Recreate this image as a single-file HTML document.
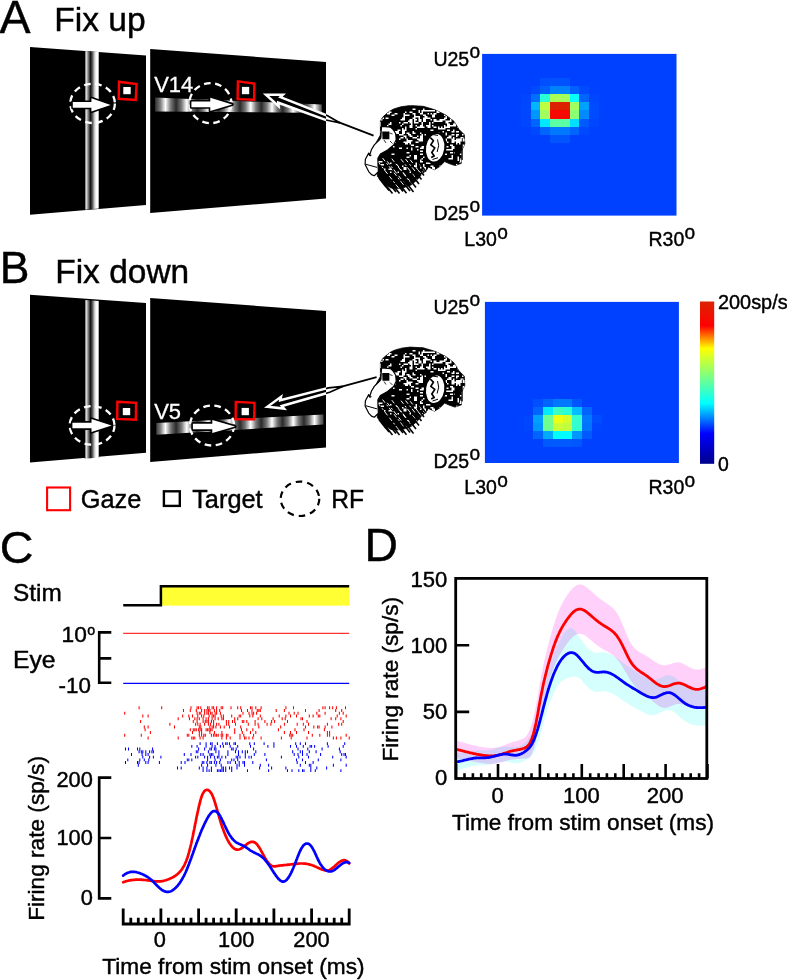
<!DOCTYPE html>
<html><head><meta charset="utf-8"><title>Figure</title>
<style>html,body{margin:0;padding:0;background:#fff}svg{display:block}text{font-family:"Liberation Sans",sans-serif;stroke:#000;stroke-width:.42px}</style>
</head><body>
<svg width="787" height="980" viewBox="0 0 787 980">
<rect width="787" height="980" fill="#fff"/>
<defs>
<linearGradient id="vbar" gradientUnits="userSpaceOnUse" x1="84.8" y1="0" x2="99.2" y2="0"><stop offset="0" stop-color="#000"/><stop offset="0.07" stop-color="#ccc"/><stop offset="0.11" stop-color="#ddd"/><stop offset="0.25" stop-color="#777"/><stop offset="0.4" stop-color="#111"/><stop offset="0.55" stop-color="#666"/><stop offset="0.7" stop-color="#ddd"/><stop offset="0.82" stop-color="#fff"/><stop offset="0.93" stop-color="#fff"/><stop offset="1" stop-color="#000"/></linearGradient>
<linearGradient id="hgr" gradientUnits="userSpaceOnUse" x1="154.8" y1="0" x2="176.1" y2="0" spreadMethod="repeat"><stop offset="0" stop-color="#2a2a2a"/><stop offset="0.25" stop-color="#777"/><stop offset="0.5" stop-color="#fff"/><stop offset="0.75" stop-color="#777"/><stop offset="1" stop-color="#2a2a2a"/></linearGradient>
<linearGradient id="cbar" x1="0" y1="0" x2="0" y2="1"><stop offset="0.000" stop-color="rgb(220,35,0)"/><stop offset="0.149" stop-color="rgb(255,0,0)"/><stop offset="0.289" stop-color="rgb(255,255,0)"/><stop offset="0.627" stop-color="rgb(0,255,255)"/><stop offset="0.814" stop-color="rgb(0,0,255)"/><stop offset="1.000" stop-color="rgb(0,0,140)"/></linearGradient>
<clipPath id="clipA"><polygon points="150.2,48.9 326,62.1 326,198.5 150.2,213"/></clipPath>
<clipPath id="clipB"><polygon points="150.2,297.9 326,311.1 326,447.5 150.2,462"/></clipPath>
<clipPath id="mclip"><polygon points="380.4,121.4 382.5,117.3 385.5,114.6 389.5,111.3 393.7,109.0 400.8,106.8 410.0,105.6 423.3,106.3 435.5,110.0 445.7,115.0 453.9,121.2 459.0,129.4 464.3,134.7 464.8,143.9 461.4,151.0 461.4,163.3 454.9,165.6 449.0,163.5 444.7,161.6 439.6,166.6 434.5,169.7 428.4,167.0 426.3,170.4 422.0,174.0 417.0,180.0 411.0,185.0 404.0,187.5 397.0,188.5 391.0,188.0 387.0,185.5 383.5,182.5 380.0,179.0 377.4,176.5 377.4,171.4 372.0,150.0 380.4,135.0"/></clipPath><g id="monkey"><polygon points="380.4,121.4 382.5,117.3 385.5,114.6 389.5,111.3 393.7,109.0 400.8,106.8 410.0,105.6 423.3,106.3 435.5,110.0 445.7,115.0 453.9,121.2 459.0,129.4 464.3,134.7 464.8,143.9 461.4,151.0 461.4,163.3 454.9,165.6 449.0,163.5 444.7,161.6 439.6,166.6 434.5,169.7 428.4,167.0 426.3,170.4 422.0,174.0 417.0,180.0 411.0,185.0 404.0,187.5 397.0,188.5 391.0,188.0 387.0,185.5 383.5,182.5 380.0,179.0 377.4,176.5 377.4,171.4 372.0,150.0 380.4,135.0" fill="#000" stroke="#000" stroke-width="0.8" stroke-linejoin="round"/><g clip-path="url(#mclip)"><path d="M409.5,104.0h1.5v1.5h-1.5zM451.5,104.0h3.0v1.5h-3.0zM457.5,104.0h1.5v1.5h-1.5zM465.0,104.0h1.5v1.5h-1.5zM393.0,105.5h3.0v1.5h-3.0zM397.5,105.5h3.0v1.5h-3.0zM426.0,105.5h1.5v1.5h-1.5zM387.0,108.5h3.0v1.5h-3.0zM412.5,108.5h3.0v1.5h-3.0zM423.0,108.5h1.5v1.5h-1.5zM456.0,108.5h3.0v1.5h-3.0zM387.0,110.0h1.5v1.5h-1.5zM388.5,110.0h1.5v3.0h-1.5zM418.5,110.0h1.5v3.0h-1.5zM421.5,110.0h1.5v3.0h-1.5zM423.0,110.0h3.0v1.5h-3.0zM426.0,110.0h3.0v1.5h-3.0zM429.0,110.0h3.0v1.5h-3.0zM432.0,110.0h3.0v1.5h-3.0zM436.5,110.0h3.0v3.0h-3.0zM444.0,110.0h3.0v3.0h-3.0zM453.0,110.0h1.5v1.5h-1.5zM454.5,110.0h3.0v1.5h-3.0zM457.5,110.0h1.5v3.0h-1.5zM390.0,111.5h1.5v1.5h-1.5zM405.0,111.5h1.5v1.5h-1.5zM409.5,111.5h3.0v1.5h-3.0zM421.5,111.5h1.5v1.5h-1.5zM445.5,111.5h3.0v1.5h-3.0zM448.5,111.5h3.0v3.0h-3.0zM450.0,111.5h1.5v3.0h-1.5zM387.0,113.0h3.0v1.5h-3.0zM394.5,113.0h3.0v1.5h-3.0zM403.5,113.0h1.5v3.0h-1.5zM412.5,113.0h3.0v1.5h-3.0zM420.0,113.0h1.5v1.5h-1.5zM421.5,113.0h1.5v1.5h-1.5zM427.5,113.0h1.5v1.5h-1.5zM430.5,113.0h1.5v1.5h-1.5zM433.5,113.0h3.0v1.5h-3.0zM447.0,113.0h3.0v1.5h-3.0zM451.5,113.0h1.5v1.5h-1.5zM459.0,113.0h1.5v3.0h-1.5zM391.5,114.5h3.0v1.5h-3.0zM405.0,114.5h3.0v1.5h-3.0zM406.5,114.5h3.0v1.5h-3.0zM414.0,114.5h1.5v3.0h-1.5zM423.0,114.5h3.0v1.5h-3.0zM432.0,114.5h3.0v1.5h-3.0zM444.0,114.5h1.5v1.5h-1.5zM454.5,114.5h3.0v3.0h-3.0zM378.0,116.0h3.0v3.0h-3.0zM403.5,116.0h1.5v1.5h-1.5zM415.5,116.0h1.5v1.5h-1.5zM417.0,116.0h3.0v1.5h-3.0zM424.5,116.0h3.0v3.0h-3.0zM432.0,116.0h3.0v1.5h-3.0zM433.5,116.0h1.5v1.5h-1.5zM445.5,116.0h1.5v3.0h-1.5zM453.0,116.0h3.0v3.0h-3.0zM457.5,116.0h1.5v1.5h-1.5zM382.5,117.5h1.5v1.5h-1.5zM385.5,117.5h3.0v1.5h-3.0zM402.0,117.5h3.0v3.0h-3.0zM412.5,117.5h3.0v1.5h-3.0zM414.0,117.5h1.5v3.0h-1.5zM418.5,117.5h1.5v3.0h-1.5zM423.0,117.5h3.0v3.0h-3.0zM427.5,117.5h3.0v1.5h-3.0zM444.0,117.5h1.5v3.0h-1.5zM450.0,117.5h3.0v1.5h-3.0zM454.5,117.5h1.5v1.5h-1.5zM456.0,117.5h3.0v1.5h-3.0zM379.5,119.0h3.0v1.5h-3.0zM400.5,119.0h3.0v1.5h-3.0zM409.5,119.0h3.0v1.5h-3.0zM414.0,119.0h1.5v3.0h-1.5zM415.5,119.0h1.5v1.5h-1.5zM418.5,119.0h3.0v1.5h-3.0zM430.5,119.0h1.5v1.5h-1.5zM433.5,119.0h3.0v3.0h-3.0zM439.5,119.0h3.0v1.5h-3.0zM441.0,119.0h3.0v1.5h-3.0zM450.0,119.0h1.5v3.0h-1.5zM454.5,119.0h1.5v3.0h-1.5zM408.0,120.5h1.5v1.5h-1.5zM409.5,120.5h3.0v1.5h-3.0zM418.5,120.5h3.0v1.5h-3.0zM423.0,120.5h3.0v1.5h-3.0zM424.5,120.5h1.5v1.5h-1.5zM436.5,120.5h3.0v1.5h-3.0zM438.0,120.5h3.0v1.5h-3.0zM439.5,120.5h3.0v1.5h-3.0zM445.5,120.5h3.0v3.0h-3.0zM448.5,120.5h3.0v1.5h-3.0zM454.5,120.5h1.5v3.0h-1.5zM457.5,120.5h1.5v1.5h-1.5zM378.0,122.0h3.0v3.0h-3.0zM390.0,122.0h1.5v3.0h-1.5zM399.0,122.0h1.5v1.5h-1.5zM403.5,122.0h3.0v1.5h-3.0zM405.0,122.0h3.0v1.5h-3.0zM409.5,122.0h3.0v1.5h-3.0zM414.0,122.0h3.0v1.5h-3.0zM415.5,122.0h3.0v1.5h-3.0zM421.5,122.0h1.5v3.0h-1.5zM429.0,122.0h1.5v3.0h-1.5zM432.0,122.0h1.5v1.5h-1.5zM456.0,122.0h1.5v3.0h-1.5zM388.5,123.5h1.5v1.5h-1.5zM402.0,123.5h1.5v1.5h-1.5zM411.0,123.5h1.5v1.5h-1.5zM447.0,123.5h3.0v3.0h-3.0zM453.0,123.5h3.0v1.5h-3.0zM378.0,125.0h3.0v1.5h-3.0zM387.0,125.0h1.5v1.5h-1.5zM400.5,125.0h1.5v1.5h-1.5zM409.5,125.0h3.0v3.0h-3.0zM411.0,125.0h1.5v1.5h-1.5zM415.5,125.0h1.5v1.5h-1.5zM420.0,125.0h3.0v3.0h-3.0zM426.0,125.0h1.5v1.5h-1.5zM427.5,125.0h1.5v3.0h-1.5zM429.0,125.0h1.5v1.5h-1.5zM432.0,125.0h1.5v1.5h-1.5zM444.0,125.0h1.5v3.0h-1.5zM447.0,125.0h3.0v3.0h-3.0zM448.5,125.0h3.0v1.5h-3.0zM451.5,125.0h1.5v1.5h-1.5zM453.0,125.0h3.0v1.5h-3.0zM381.0,126.5h3.0v1.5h-3.0zM405.0,126.5h1.5v3.0h-1.5zM417.0,126.5h1.5v1.5h-1.5zM418.5,126.5h1.5v1.5h-1.5zM423.0,126.5h1.5v1.5h-1.5zM427.5,126.5h3.0v1.5h-3.0zM433.5,126.5h3.0v1.5h-3.0zM438.0,126.5h1.5v1.5h-1.5zM441.0,126.5h1.5v1.5h-1.5zM445.5,126.5h3.0v1.5h-3.0zM447.0,126.5h3.0v1.5h-3.0zM457.5,126.5h1.5v1.5h-1.5zM460.5,126.5h1.5v1.5h-1.5zM382.5,128.0h3.0v3.0h-3.0zM402.0,128.0h1.5v3.0h-1.5zM415.5,128.0h1.5v1.5h-1.5zM438.0,128.0h3.0v1.5h-3.0zM439.5,128.0h3.0v1.5h-3.0zM442.5,128.0h3.0v1.5h-3.0zM397.5,129.5h3.0v1.5h-3.0zM403.5,129.5h3.0v1.5h-3.0zM430.5,129.5h3.0v1.5h-3.0zM447.0,129.5h3.0v1.5h-3.0zM453.0,129.5h1.5v1.5h-1.5zM378.0,131.0h3.0v1.5h-3.0zM393.0,131.0h3.0v3.0h-3.0zM396.0,131.0h3.0v3.0h-3.0zM402.0,131.0h3.0v3.0h-3.0zM412.5,131.0h1.5v1.5h-1.5zM442.5,131.0h1.5v1.5h-1.5zM451.5,131.0h3.0v1.5h-3.0zM456.0,131.0h3.0v1.5h-3.0zM465.0,131.0h3.0v1.5h-3.0zM406.5,132.5h3.0v1.5h-3.0zM412.5,132.5h3.0v1.5h-3.0zM420.0,132.5h1.5v1.5h-1.5zM438.0,132.5h1.5v1.5h-1.5zM445.5,132.5h1.5v3.0h-1.5zM399.0,134.0h3.0v1.5h-3.0zM402.0,134.0h1.5v1.5h-1.5zM408.0,134.0h3.0v1.5h-3.0zM421.5,134.0h1.5v1.5h-1.5zM424.5,134.0h1.5v1.5h-1.5zM435.0,134.0h1.5v3.0h-1.5zM451.5,134.0h3.0v1.5h-3.0zM456.0,134.0h3.0v1.5h-3.0zM462.0,134.0h1.5v1.5h-1.5zM403.5,135.5h1.5v1.5h-1.5zM405.0,135.5h1.5v3.0h-1.5zM409.5,135.5h3.0v1.5h-3.0zM417.0,135.5h1.5v1.5h-1.5zM420.0,135.5h3.0v3.0h-3.0zM430.5,135.5h3.0v1.5h-3.0zM448.5,135.5h3.0v1.5h-3.0zM456.0,135.5h1.5v1.5h-1.5zM400.5,137.0h3.0v1.5h-3.0zM412.5,137.0h1.5v1.5h-1.5zM414.0,137.0h3.0v1.5h-3.0zM433.5,137.0h3.0v1.5h-3.0zM447.0,137.0h3.0v1.5h-3.0zM450.0,137.0h1.5v1.5h-1.5zM453.0,137.0h1.5v1.5h-1.5zM460.5,137.0h3.0v1.5h-3.0zM399.0,138.5h1.5v1.5h-1.5zM406.5,138.5h1.5v1.5h-1.5zM417.0,138.5h3.0v1.5h-3.0zM420.0,138.5h3.0v3.0h-3.0zM421.5,138.5h1.5v1.5h-1.5zM445.5,138.5h1.5v3.0h-1.5zM451.5,138.5h3.0v1.5h-3.0zM456.0,138.5h3.0v1.5h-3.0zM459.0,138.5h3.0v3.0h-3.0zM462.0,138.5h3.0v1.5h-3.0zM406.5,140.0h3.0v1.5h-3.0zM409.5,140.0h3.0v1.5h-3.0zM418.5,140.0h3.0v1.5h-3.0zM421.5,140.0h1.5v1.5h-1.5zM442.5,140.0h3.0v1.5h-3.0zM451.5,140.0h3.0v3.0h-3.0zM453.0,140.0h3.0v1.5h-3.0zM454.5,140.0h3.0v1.5h-3.0zM456.0,140.0h3.0v1.5h-3.0zM462.0,140.0h3.0v1.5h-3.0zM394.5,141.5h1.5v1.5h-1.5zM403.5,141.5h1.5v1.5h-1.5zM405.0,141.5h3.0v1.5h-3.0zM408.0,141.5h1.5v1.5h-1.5zM409.5,141.5h1.5v3.0h-1.5zM415.5,141.5h3.0v1.5h-3.0zM427.5,141.5h3.0v3.0h-3.0zM432.0,141.5h1.5v1.5h-1.5zM447.0,141.5h1.5v1.5h-1.5zM456.0,141.5h3.0v1.5h-3.0zM459.0,141.5h1.5v3.0h-1.5zM405.0,143.0h3.0v1.5h-3.0zM409.5,143.0h1.5v1.5h-1.5zM436.5,143.0h3.0v1.5h-3.0zM456.0,143.0h1.5v1.5h-1.5zM411.0,144.5h3.0v1.5h-3.0zM450.0,144.5h3.0v1.5h-3.0zM462.0,144.5h3.0v3.0h-3.0zM393.0,146.0h1.5v1.5h-1.5zM415.5,146.0h3.0v1.5h-3.0zM421.5,146.0h3.0v1.5h-3.0zM445.5,146.0h3.0v1.5h-3.0zM451.5,146.0h3.0v3.0h-3.0zM399.0,147.5h3.0v1.5h-3.0zM406.5,147.5h1.5v1.5h-1.5zM411.0,147.5h1.5v3.0h-1.5zM420.0,147.5h1.5v1.5h-1.5zM421.5,147.5h3.0v1.5h-3.0zM429.0,147.5h3.0v1.5h-3.0zM435.0,147.5h1.5v1.5h-1.5zM451.5,147.5h1.5v3.0h-1.5zM462.0,147.5h1.5v1.5h-1.5zM417.0,149.0h1.5v1.5h-1.5zM445.5,149.0h3.0v1.5h-3.0zM448.5,149.0h3.0v1.5h-3.0zM379.5,150.5h3.0v1.5h-3.0zM420.0,150.5h3.0v1.5h-3.0zM429.0,150.5h3.0v1.5h-3.0zM406.5,152.0h3.0v1.5h-3.0zM438.0,152.0h3.0v1.5h-3.0zM450.0,152.0h1.5v1.5h-1.5zM451.5,152.0h3.0v1.5h-3.0zM391.5,153.5h3.0v1.5h-3.0zM420.0,153.5h3.0v1.5h-3.0zM439.5,153.5h3.0v3.0h-3.0zM444.0,153.5h3.0v1.5h-3.0zM459.0,153.5h3.0v1.5h-3.0zM409.5,155.0h1.5v1.5h-1.5zM414.0,155.0h3.0v3.0h-3.0zM451.5,155.0h1.5v1.5h-1.5zM406.5,156.5h3.0v1.5h-3.0zM423.0,156.5h1.5v1.5h-1.5zM427.5,156.5h3.0v1.5h-3.0zM451.5,156.5h1.5v3.0h-1.5zM457.5,156.5h1.5v3.0h-1.5zM414.0,158.0h3.0v1.5h-3.0zM421.5,158.0h1.5v1.5h-1.5zM448.5,158.0h3.0v1.5h-3.0zM459.0,158.0h1.5v1.5h-1.5zM420.0,159.5h1.5v3.0h-1.5zM430.5,159.5h1.5v1.5h-1.5zM457.5,159.5h3.0v1.5h-3.0zM459.0,159.5h3.0v3.0h-3.0zM378.0,161.0h3.0v1.5h-3.0zM379.5,161.0h3.0v1.5h-3.0zM420.0,161.0h3.0v1.5h-3.0zM432.0,161.0h1.5v1.5h-1.5zM433.5,161.0h1.5v1.5h-1.5zM462.0,161.0h1.5v1.5h-1.5zM390.0,162.5h1.5v1.5h-1.5zM415.5,162.5h1.5v3.0h-1.5zM426.0,162.5h1.5v1.5h-1.5zM427.5,162.5h3.0v1.5h-3.0zM463.5,162.5h1.5v1.5h-1.5zM381.0,164.0h3.0v1.5h-3.0zM415.5,164.0h1.5v1.5h-1.5zM423.0,164.0h1.5v3.0h-1.5zM444.0,164.0h1.5v1.5h-1.5zM456.0,164.0h1.5v1.5h-1.5zM402.0,165.5h1.5v1.5h-1.5zM414.0,165.5h3.0v1.5h-3.0zM430.5,165.5h3.0v1.5h-3.0zM439.5,165.5h3.0v1.5h-3.0zM442.5,165.5h3.0v1.5h-3.0zM453.0,165.5h1.5v1.5h-1.5zM465.0,165.5h3.0v1.5h-3.0zM403.5,167.0h3.0v3.0h-3.0zM420.0,167.0h1.5v1.5h-1.5zM423.0,167.0h3.0v3.0h-3.0zM432.0,167.0h3.0v3.0h-3.0zM439.5,167.0h3.0v3.0h-3.0zM441.0,167.0h1.5v1.5h-1.5zM445.5,167.0h3.0v1.5h-3.0zM450.0,167.0h1.5v1.5h-1.5zM453.0,167.0h3.0v1.5h-3.0zM384.0,168.5h1.5v1.5h-1.5zM388.5,168.5h3.0v1.5h-3.0zM429.0,168.5h1.5v3.0h-1.5zM433.5,168.5h1.5v3.0h-1.5zM447.0,168.5h3.0v1.5h-3.0zM448.5,168.5h1.5v3.0h-1.5zM450.0,168.5h1.5v3.0h-1.5zM459.0,168.5h1.5v1.5h-1.5zM465.0,168.5h1.5v1.5h-1.5zM424.5,170.0h3.0v1.5h-3.0zM432.0,170.0h3.0v1.5h-3.0zM433.5,170.0h3.0v1.5h-3.0zM454.5,170.0h1.5v1.5h-1.5zM457.5,170.0h3.0v1.5h-3.0zM459.0,170.0h3.0v3.0h-3.0zM390.0,171.5h1.5v1.5h-1.5zM397.5,171.5h1.5v1.5h-1.5zM409.5,171.5h1.5v1.5h-1.5zM420.0,171.5h3.0v1.5h-3.0zM433.5,171.5h1.5v1.5h-1.5zM444.0,171.5h3.0v1.5h-3.0zM448.5,171.5h1.5v1.5h-1.5zM460.5,171.5h3.0v1.5h-3.0zM462.0,171.5h1.5v1.5h-1.5z" fill="#fff"/><path d="M378.0,161.7l25.3,32.2M382.6,158.1l25.4,32.4M387.2,161.3l20.2,25.7M391.8,158.7l18.5,23.6M396.4,163.9l22.9,29.1M401.0,159.2l19.5,24.9M405.6,159.1l18.1,23.0M410.2,159.8l19.4,24.7M414.8,165.8l26.0,33.1M419.4,164.3l20.9,26.6" stroke="#fff" stroke-width="1.0" fill="none" stroke-dasharray="4 2.5 2 2 5 3"/></g><path d="M386.0,187.0l-7.1,-9.1M389.0,190.5l-8.0,-10.2M392.5,193.6l-8.4,-10.7M396.0,192.0l-7.9,-10.1M399.5,193.4l-7.6,-9.6M403.0,191.5l-6.2,-7.9M406.5,193.2l-7.5,-9.6M410.0,191.0l-8.2,-10.5M413.5,192.0l-8.0,-10.2M416.0,187.5l-5.9,-7.5M419.0,184.0l-7.8,-9.9M421.5,179.5l-6.7,-8.5M424.0,175.5l-6.1,-7.8M426.0,171.5l-8.6,-10.9" stroke="#000" stroke-width="1.6" fill="none"/><polygon points="381.6,126.3 390.6,127.2 393.6,130.2 395.7,133.7 396.2,139.8 393.7,144.9 387.6,150.0 380.4,154.1 377.9,158.2 378.0,165.0 378.4,171.8 374.3,175.7 371.5,174.6 368.7,171.6 365.1,164.5 365.4,159.2 368.7,153.1 369.6,155.4 371.5,149.5 374.3,144.9 379.4,139.8 380.9,137.8 381.2,130.6" fill="#fff" stroke="#000" stroke-width="1.2" stroke-linejoin="round"/><path d="M382.2,131.4 h7.2 v7.8 h-6.9 z" fill="#000"/><path d="M389.5,133 l3,1 M390,141 l2.5,2.5 M384,140 l2,3" stroke="#000" stroke-width="0.8" fill="none"/><path d="M365.6,164.2 l11.5,3.2" stroke="#000" stroke-width="1" fill="none"/><path d="M368.6,153.4 l1.6,2.3 l1.2,-0.8" stroke="#000" stroke-width="1.1" fill="none"/><ellipse cx="435.2" cy="147.8" rx="10.2" ry="15" fill="#fff" stroke="#000" stroke-width="2.2" transform="rotate(9 435.2 147.6)"/><path d="M430.2,137.5 l3.2,3.2 l-2.6,4.2 l4,3 l-3,4.6 l2.4,3.4 l-3,1.6" stroke="#000" stroke-width="1.7" fill="none" stroke-linejoin="round"/><path d="M437.5,139.5 q2.6,6 -0.4,12.5 M433,134.6 l5,0.8 M432.5,159.5 l5.5,-1.8" stroke="#000" stroke-width="1.0" fill="none"/><path d="M453.5,150v14 M456.5,147v17 M459.5,146v16 M462.3,138v22" stroke="#000" stroke-width="0.9" fill="none"/></g>
</defs>
<text transform="translate(-0.60,32.50) scale(0.995,1)" font-size="46.8" text-anchor="start" fill="#000" >A</text>
<text transform="translate(54.20,31.40) scale(1.01,1)" font-size="33.3" text-anchor="start" fill="#000" >Fix up</text>
<text transform="translate(-0.20,283.00) scale(0.985,1)" font-size="45.2" text-anchor="start" fill="#000" >B</text>
<text transform="translate(55.20,283.00) scale(1.018,1)" font-size="32.9" text-anchor="start" fill="#000" >Fix down</text>
<text transform="translate(-0.20,562.50) scale(1.034,1)" font-size="45.2" text-anchor="start" fill="#000" >C</text>
<text transform="translate(364.40,561.00) scale(1.014,1)" font-size="45.7" text-anchor="start" fill="#000" >D</text>
<polygon points="30.0,47.0 146.0,55.4 146.0,205.0 30.0,214.7" fill="#000"/>
<polygon points="150.2,48.9 326.0,62.1 326.0,198.5 150.2,213.0" fill="#000"/>
<polygon points="84.8,51.0 99.2,52.0 99.2,208.6 84.8,209.8" fill="url(#vbar)"/>
<polygon points="155.0,97.4 321.7,104.4 321.7,112.9 155.0,111.4" fill="url(#hgr)"/>
<text transform="translate(154.20,91.70) scale(0.985,1)" font-size="22.3" text-anchor="start" fill="#fff" style="stroke:#fff;stroke-width:.3px">V14</text>
<ellipse cx="92.6" cy="103.4" rx="22.3" ry="19.6" fill="none" stroke="#fff" stroke-width="2.3" stroke-dasharray="6.6 4.6"/>
<path d="M72.8,102.1 L91.4,102.1 L91.4,98.3 L110.6,104.9 L91.4,111.5 L91.4,107.7 L72.8,107.7 Z" fill="#000" stroke="#000" stroke-width="3.2" stroke-linejoin="round"/>
<path d="M72.8,102.1 L91.4,102.1 L91.4,98.3 L110.6,104.9 L91.4,111.5 L91.4,107.7 L72.8,107.7 Z" fill="#fff"/>
<ellipse cx="210.4" cy="103.2" rx="21.0" ry="20.0" fill="none" stroke="#fff" stroke-width="2.3" stroke-dasharray="6.6 4.6"/>
<path d="M191.4,101.6 L210.3,101.6 L210.3,97.8 L232.2,104.4 L210.3,111.0 L210.3,107.2 L191.4,107.2 Z" fill="#000" stroke="#000" stroke-width="3.2" stroke-linejoin="round"/>
<path d="M191.4,101.6 L210.3,101.6 L210.3,97.8 L232.2,104.4 L210.3,111.0 L210.3,107.2 L191.4,107.2 Z" fill="#fff"/>
<polygon points="119.0,81.7 136.6,84.0 135.7,99.9 118.7,98.8" fill="none" stroke="#f00" stroke-width="2.4"/>
<polygon points="237.9,81.4 254.3,83.6 254.1,99.8 237.6,99.1" fill="none" stroke="#f00" stroke-width="2.4"/>
<rect x="123.3" y="87.0" width="7.4" height="7.2" fill="#fff"/>
<rect x="241.9" y="86.9" width="7.3" height="7.3" fill="#fff"/>
<polygon points="30.0,294.7 146.0,303.1 146.0,452.7 30.0,462.4" fill="#000"/>
<polygon points="150.2,297.9 326.0,311.1 326.0,447.5 150.2,462.0" fill="#000"/>
<polygon points="84.8,300.0 99.2,301.0 99.2,457.6 84.8,458.8" fill="url(#vbar)"/>
<polygon points="156.3,422.9 323.5,414.4 323.5,424.5 156.3,434.8" fill="url(#hgr)"/>
<text transform="translate(154.20,418.50) scale(0.985,1)" font-size="22.3" text-anchor="start" fill="#fff" style="stroke:#fff;stroke-width:.3px">V5</text>
<ellipse cx="92.1" cy="425.4" rx="22.4" ry="19.3" fill="none" stroke="#fff" stroke-width="2.3" stroke-dasharray="6.6 4.6"/>
<path d="M72.4,422.7 L91.5,422.7 L91.5,418.9 L111.6,425.5 L91.5,432.1 L91.5,428.3 L72.4,428.3 Z" fill="#000" stroke="#000" stroke-width="3.2" stroke-linejoin="round"/>
<path d="M72.4,422.7 L91.5,422.7 L91.5,418.9 L111.6,425.5 L91.5,432.1 L91.5,428.3 L72.4,428.3 Z" fill="#fff"/>
<ellipse cx="212.0" cy="425.5" rx="22.0" ry="20.0" fill="none" stroke="#fff" stroke-width="2.3" stroke-dasharray="6.6 4.6"/>
<path d="M192.9,423.7 L212.3,423.7 L212.3,419.9 L235.0,426.5 L212.3,433.1 L212.3,429.3 L192.9,429.3 Z" fill="#000" stroke="#000" stroke-width="3.2" stroke-linejoin="round"/>
<path d="M192.9,423.7 L212.3,423.7 L212.3,419.9 L235.0,426.5 L212.3,433.1 L212.3,429.3 L192.9,429.3 Z" fill="#fff"/>
<polygon points="117.4,401.7 136.1,402.9 135.8,419.7 117.2,418.9" fill="none" stroke="#f00" stroke-width="2.4"/>
<polygon points="235.8,401.9 254.5,402.9 254.2,419.3 235.6,419.3" fill="none" stroke="#f00" stroke-width="2.4"/>
<rect x="122.8" y="408.0" width="7.4" height="7.2" fill="#fff"/>
<rect x="241.6" y="407.9" width="7.3" height="7.3" fill="#fff"/>
<path d="M338.4,122.2 L373.6,135.6" stroke="#000" stroke-width="1.9" fill="none"/>
<path d="M266.0,94.8 L278.6,106.1 L278.3,102.7 L326.0,120.0 L340.2,123.0 L327.6,115.7 L280.4,97.1 L282.9,94.7 Z" fill="#fff" stroke="#000" stroke-width="1.7" stroke-linejoin="miter"/>
<g clip-path="url(#clipA)"><path d="M266.0,94.8 L278.6,106.1 L278.3,102.7 L326.0,120.0 L340.2,123.0 L327.6,115.7 L280.4,97.1 L282.9,94.7 Z" fill="#000" stroke="#fff" stroke-width="2.5" stroke-linejoin="miter"/></g>
<path d="M340.8,386.9 L376.6,377.2" stroke="#000" stroke-width="1.9" fill="none"/>
<path d="M267.3,406.8 L284.1,408.6 L281.9,406.0 L329.7,392.3 L342.7,386.4 L328.5,387.9 L280.3,400.2 L281.0,396.8 Z" fill="#fff" stroke="#000" stroke-width="1.7" stroke-linejoin="miter"/>
<g clip-path="url(#clipB)"><path d="M267.3,406.8 L284.1,408.6 L281.9,406.0 L329.7,392.3 L342.7,386.4 L328.5,387.9 L280.3,400.2 L281.0,396.8 Z" fill="#000" stroke="#fff" stroke-width="2.5" stroke-linejoin="miter"/></g>
<use href="#monkey"/>
<use href="#monkey" transform="translate(0,241.5)"/>
<rect x="482.1" y="53.9" width="194.4" height="161.7" fill="rgb(0, 64, 255)"/>
<g shape-rendering="crispEdges">
<rect x="540.42" y="78.16" width="10.02" height="8.38" fill="rgb(0,80,255)"/>
<rect x="550.14" y="78.16" width="10.02" height="8.38" fill="rgb(0,82,255)"/>
<rect x="559.86" y="78.16" width="10.02" height="8.38" fill="rgb(0,82,255)"/>
<rect x="530.70" y="86.24" width="10.02" height="8.38" fill="rgb(0,74,255)"/>
<rect x="540.42" y="86.24" width="10.02" height="8.38" fill="rgb(0,95,255)"/>
<rect x="550.14" y="86.24" width="10.02" height="8.38" fill="rgb(0,130,255)"/>
<rect x="559.86" y="86.24" width="10.02" height="8.38" fill="rgb(0,130,255)"/>
<rect x="569.58" y="86.24" width="10.02" height="8.38" fill="rgb(0,95,255)"/>
<rect x="579.30" y="86.24" width="10.02" height="8.38" fill="rgb(0,74,255)"/>
<rect x="520.98" y="94.32" width="10.02" height="8.38" fill="rgb(0,70,255)"/>
<rect x="530.70" y="94.32" width="10.02" height="8.38" fill="rgb(0,110,255)"/>
<rect x="540.42" y="94.32" width="10.02" height="8.38" fill="rgb(40,255,215)"/>
<rect x="550.14" y="94.32" width="10.02" height="8.38" fill="rgb(170,255,85)"/>
<rect x="559.86" y="94.32" width="10.02" height="8.38" fill="rgb(165,255,90)"/>
<rect x="569.58" y="94.32" width="10.02" height="8.38" fill="rgb(5,255,250)"/>
<rect x="579.30" y="94.32" width="10.02" height="8.38" fill="rgb(0,100,255)"/>
<rect x="589.02" y="94.32" width="10.02" height="8.38" fill="rgb(0,70,255)"/>
<rect x="520.98" y="102.41" width="10.02" height="8.38" fill="rgb(0,72,255)"/>
<rect x="530.70" y="102.41" width="10.02" height="8.38" fill="rgb(0,180,255)"/>
<rect x="540.42" y="102.41" width="10.02" height="8.38" fill="rgb(190,255,65)"/>
<rect x="550.14" y="102.41" width="10.02" height="8.38" fill="rgb(220,35,0)"/>
<rect x="559.86" y="102.41" width="10.02" height="8.38" fill="rgb(220,35,0)"/>
<rect x="569.58" y="102.41" width="10.02" height="8.38" fill="rgb(160,255,95)"/>
<rect x="579.30" y="102.41" width="10.02" height="8.38" fill="rgb(0,160,255)"/>
<rect x="589.02" y="102.41" width="10.02" height="8.38" fill="rgb(0,74,255)"/>
<rect x="520.98" y="110.49" width="10.02" height="8.38" fill="rgb(0,72,255)"/>
<rect x="530.70" y="110.49" width="10.02" height="8.38" fill="rgb(0,150,255)"/>
<rect x="540.42" y="110.49" width="10.02" height="8.38" fill="rgb(160,255,95)"/>
<rect x="550.14" y="110.49" width="10.02" height="8.38" fill="rgb(248,7,0)"/>
<rect x="559.86" y="110.49" width="10.02" height="8.38" fill="rgb(248,7,0)"/>
<rect x="569.58" y="110.49" width="10.02" height="8.38" fill="rgb(140,255,115)"/>
<rect x="579.30" y="110.49" width="10.02" height="8.38" fill="rgb(0,140,255)"/>
<rect x="589.02" y="110.49" width="10.02" height="8.38" fill="rgb(0,74,255)"/>
<rect x="520.98" y="118.58" width="10.02" height="8.38" fill="rgb(0,70,255)"/>
<rect x="530.70" y="118.58" width="10.02" height="8.38" fill="rgb(0,100,255)"/>
<rect x="540.42" y="118.58" width="10.02" height="8.38" fill="rgb(0,232,255)"/>
<rect x="550.14" y="118.58" width="10.02" height="8.38" fill="rgb(90,255,165)"/>
<rect x="559.86" y="118.58" width="10.02" height="8.38" fill="rgb(90,255,165)"/>
<rect x="569.58" y="118.58" width="10.02" height="8.38" fill="rgb(0,222,255)"/>
<rect x="579.30" y="118.58" width="10.02" height="8.38" fill="rgb(0,90,255)"/>
<rect x="589.02" y="118.58" width="10.02" height="8.38" fill="rgb(0,70,255)"/>
<rect x="530.70" y="126.66" width="10.02" height="8.38" fill="rgb(0,72,255)"/>
<rect x="540.42" y="126.66" width="10.02" height="8.38" fill="rgb(0,100,255)"/>
<rect x="550.14" y="126.66" width="10.02" height="8.38" fill="rgb(0,120,255)"/>
<rect x="559.86" y="126.66" width="10.02" height="8.38" fill="rgb(0,120,255)"/>
<rect x="569.58" y="126.66" width="10.02" height="8.38" fill="rgb(0,100,255)"/>
<rect x="579.30" y="126.66" width="10.02" height="8.38" fill="rgb(0,72,255)"/>
<rect x="550.14" y="134.75" width="10.02" height="8.38" fill="rgb(0,85,255)"/>
<rect x="559.86" y="134.75" width="10.02" height="8.38" fill="rgb(0,85,255)"/>
</g>
<rect x="484.9" y="301.9" width="194.0" height="161.1" fill="rgb(0, 64, 255)"/>
<g shape-rendering="crispEdges">
<rect x="533.40" y="398.56" width="10.00" height="8.36" fill="rgb(0,80,255)"/>
<rect x="543.10" y="398.56" width="10.00" height="8.36" fill="rgb(0,100,255)"/>
<rect x="552.80" y="398.56" width="10.00" height="8.36" fill="rgb(0,120,255)"/>
<rect x="562.50" y="398.56" width="10.00" height="8.36" fill="rgb(0,120,255)"/>
<rect x="572.20" y="398.56" width="10.00" height="8.36" fill="rgb(0,85,255)"/>
<rect x="533.40" y="406.62" width="10.00" height="8.36" fill="rgb(0,100,255)"/>
<rect x="543.10" y="406.62" width="10.00" height="8.36" fill="rgb(0,235,255)"/>
<rect x="552.80" y="406.62" width="10.00" height="8.36" fill="rgb(60,255,195)"/>
<rect x="562.50" y="406.62" width="10.00" height="8.36" fill="rgb(40,255,215)"/>
<rect x="572.20" y="406.62" width="10.00" height="8.36" fill="rgb(0,190,255)"/>
<rect x="581.90" y="406.62" width="10.00" height="8.36" fill="rgb(0,100,255)"/>
<rect x="523.70" y="414.67" width="10.00" height="8.36" fill="rgb(0,70,255)"/>
<rect x="533.40" y="414.67" width="10.00" height="8.36" fill="rgb(0,160,255)"/>
<rect x="543.10" y="414.67" width="10.00" height="8.36" fill="rgb(110,255,145)"/>
<rect x="552.80" y="414.67" width="10.00" height="8.36" fill="rgb(237,255,18)"/>
<rect x="562.50" y="414.67" width="10.00" height="8.36" fill="rgb(212,255,43)"/>
<rect x="572.20" y="414.67" width="10.00" height="8.36" fill="rgb(50,255,205)"/>
<rect x="581.90" y="414.67" width="10.00" height="8.36" fill="rgb(0,120,255)"/>
<rect x="591.60" y="414.67" width="10.00" height="8.36" fill="rgb(0,76,255)"/>
<rect x="523.70" y="422.73" width="10.00" height="8.36" fill="rgb(0,70,255)"/>
<rect x="533.40" y="422.73" width="10.00" height="8.36" fill="rgb(0,150,255)"/>
<rect x="543.10" y="422.73" width="10.00" height="8.36" fill="rgb(110,255,145)"/>
<rect x="552.80" y="422.73" width="10.00" height="8.36" fill="rgb(202,255,53)"/>
<rect x="562.50" y="422.73" width="10.00" height="8.36" fill="rgb(192,255,63)"/>
<rect x="572.20" y="422.73" width="10.00" height="8.36" fill="rgb(50,255,205)"/>
<rect x="581.90" y="422.73" width="10.00" height="8.36" fill="rgb(0,115,255)"/>
<rect x="591.60" y="422.73" width="10.00" height="8.36" fill="rgb(0,68,255)"/>
<rect x="533.40" y="430.78" width="10.00" height="8.36" fill="rgb(0,100,255)"/>
<rect x="543.10" y="430.78" width="10.00" height="8.36" fill="rgb(0,170,255)"/>
<rect x="552.80" y="430.78" width="10.00" height="8.36" fill="rgb(0,255,255)"/>
<rect x="562.50" y="430.78" width="10.00" height="8.36" fill="rgb(0,255,255)"/>
<rect x="572.20" y="430.78" width="10.00" height="8.36" fill="rgb(0,150,255)"/>
<rect x="581.90" y="430.78" width="10.00" height="8.36" fill="rgb(0,90,255)"/>
<rect x="543.10" y="438.84" width="10.00" height="8.36" fill="rgb(0,88,255)"/>
<rect x="552.80" y="438.84" width="10.00" height="8.36" fill="rgb(0,90,255)"/>
<rect x="562.50" y="438.84" width="10.00" height="8.36" fill="rgb(0,90,255)"/>
<rect x="572.20" y="438.84" width="10.00" height="8.36" fill="rgb(0,86,255)"/>
</g>
<text transform="translate(433.4,65.6) scale(0.93,1)" font-size="21">U25<tspan dy="-7.6" dx="0.3" font-size="20.6">o</tspan></text>
<text transform="translate(433.4,219.6) scale(0.93,1)" font-size="21">D25<tspan dy="-7.6" dx="0.3" font-size="20.6">o</tspan></text>
<text transform="translate(464.3,246.3) scale(0.93,1)" font-size="21">L30<tspan dy="-7.6" dx="0.3" font-size="20.6">o</tspan></text>
<text transform="translate(648.5,246.3) scale(0.93,1)" font-size="21">R30<tspan dy="-7.6" dx="0.3" font-size="20.6">o</tspan></text>
<text transform="translate(433.4,314) scale(0.93,1)" font-size="21">U25<tspan dy="-7.6" dx="0.3" font-size="20.6">o</tspan></text>
<text transform="translate(433.4,467.7) scale(0.93,1)" font-size="21">D25<tspan dy="-7.6" dx="0.3" font-size="20.6">o</tspan></text>
<text transform="translate(464.3,494.4) scale(0.93,1)" font-size="21">L30<tspan dy="-7.6" dx="0.3" font-size="20.6">o</tspan></text>
<text transform="translate(648.5,494.4) scale(0.93,1)" font-size="21">R30<tspan dy="-7.6" dx="0.3" font-size="20.6">o</tspan></text>
<rect x="700" y="301.5" width="14.2" height="162.3" fill="url(#cbar)"/>
<text transform="translate(718.00,308.80) scale(1.015,1)" font-size="19.6" text-anchor="start" fill="#000" >200sp/s</text>
<text x="718.00" y="470.80" font-size="19.4" text-anchor="start" fill="#000" >0</text>
<rect x="47.1" y="487.5" width="23" height="22.7" fill="none" stroke="#f00" stroke-width="2.1"/>
<text transform="translate(80.70,507.50) scale(0.975,1)" font-size="26.0" text-anchor="start" fill="#000" >Gaze</text>
<rect x="163.9" y="491.3" width="15.9" height="14.6" fill="none" stroke="#000" stroke-width="2.4"/>
<text transform="translate(192.20,507.70) scale(0.975,1)" font-size="26.0" text-anchor="start" fill="#000" >Target</text>
<ellipse cx="300" cy="498.8" rx="19.3" ry="17.2" fill="none" stroke="#000" stroke-width="2.2" stroke-dasharray="6.6 5"/>
<text transform="translate(331.20,507.70) scale(0.95,1)" font-size="26.0" text-anchor="start" fill="#000" >RF</text>
<text transform="translate(13.00,600.50) scale(1.02,1)" font-size="23.9" text-anchor="start" fill="#000" >Stim</text>
<rect x="161.9" y="587" width="187.3" height="18.7" fill="#ffff33"/>
<path d="M123.2,605.3 L160.9,605.3 L160.9,586.2 L349.2,586.2" fill="none" stroke="#000" stroke-width="2.5" stroke-linejoin="miter"/>
<text transform="translate(61.6,641.9) scale(1.03,1)" font-size="22.1">10<tspan dy="-7.2" dx="0.3" font-size="13.8">o</tspan></text>
<text transform="translate(13.00,668.00) scale(1.065,1)" font-size="23.2" text-anchor="start" fill="#000" >Eye</text>
<text transform="translate(58.50,693.40) scale(1.05,1)" font-size="21.3" text-anchor="start" fill="#000" >-10</text>
<path d="M111.3,632.4 L99.2,632.4 L99.2,682.7 L111.3,682.7 M99.2,658.4 L111.3,658.4" fill="none" stroke="#000" stroke-width="2.6" stroke-linejoin="miter"/>
<line x1="123.2" y1="633.3" x2="349.2" y2="633.3" stroke="#f00" stroke-width="1.0"/>
<line x1="123.2" y1="683.3" x2="349.2" y2="683.3" stroke="#00f" stroke-width="1.3"/>
<path d="M123.2,882.2 L124.0,881.9 L124.7,881.7 L125.5,881.4 L126.3,881.2 L127.0,881.0 L127.8,880.8 L128.5,880.6 L129.3,880.5 L130.0,880.3 L130.8,880.2 L131.5,880.1 L132.3,880.0 L133.1,879.9 L133.8,879.8 L134.6,879.8 L135.3,879.7 L136.1,879.7 L136.8,879.7 L137.6,879.7 L138.4,879.7 L139.1,879.7 L139.9,879.7 L140.6,879.7 L141.4,879.7 L142.1,879.8 L142.9,879.8 L143.6,879.9 L144.4,880.0 L145.2,880.0 L145.9,880.1 L146.7,880.2 L147.4,880.3 L148.2,880.4 L148.9,880.5 L149.7,880.6 L150.4,880.7 L151.2,880.8 L152.0,880.9 L152.7,881.0 L153.5,881.1 L154.2,881.2 L155.0,881.3 L155.7,881.3 L156.5,881.4 L157.2,881.4 L158.0,881.4 L158.8,881.4 L159.5,881.4 L160.3,881.4 L161.0,881.3 L161.8,881.2 L162.5,881.1 L163.3,880.9 L164.0,880.7 L164.8,880.5 L165.6,880.3 L166.3,880.1 L167.1,879.8 L167.8,879.6 L168.6,879.3 L169.3,878.9 L170.1,878.6 L170.9,878.3 L171.6,877.9 L172.4,877.5 L173.1,877.1 L173.9,876.7 L174.6,876.2 L175.4,875.8 L176.1,875.2 L176.9,874.6 L177.7,874.0 L178.4,873.3 L179.2,872.6 L179.9,871.7 L180.7,870.9 L181.4,869.9 L182.2,868.8 L182.9,867.6 L183.7,866.4 L184.5,864.9 L185.2,863.3 L186.0,861.6 L186.7,859.6 L187.5,857.5 L188.2,855.1 L189.0,852.4 L189.7,849.6 L190.5,846.5 L191.3,843.2 L192.0,839.7 L192.8,836.2 L193.5,832.5 L194.3,828.8 L195.0,825.0 L195.8,821.3 L196.5,817.5 L197.3,813.9 L198.1,810.3 L198.8,806.9 L199.6,803.8 L200.3,800.9 L201.1,798.2 L201.8,796.0 L202.6,794.1 L203.4,792.6 L204.1,791.5 L204.9,790.7 L205.6,790.2 L206.4,789.9 L207.1,789.9 L207.9,790.0 L208.6,790.3 L209.4,790.9 L210.2,791.7 L210.9,792.7 L211.7,793.9 L212.4,795.5 L213.2,797.3 L213.9,799.3 L214.7,801.6 L215.4,804.0 L216.2,806.6 L217.0,809.3 L217.7,812.0 L218.5,814.7 L219.2,817.3 L220.0,819.9 L220.7,822.4 L221.5,824.8 L222.2,827.0 L223.0,829.1 L223.8,831.2 L224.5,833.1 L225.3,834.9 L226.0,836.7 L226.8,838.3 L227.5,839.8 L228.3,841.2 L229.0,842.5 L229.8,843.7 L230.6,844.8 L231.3,845.8 L232.1,846.7 L232.8,847.5 L233.6,848.1 L234.3,848.7 L235.1,849.1 L235.9,849.4 L236.6,849.6 L237.4,849.7 L238.1,849.7 L238.9,849.5 L239.6,849.3 L240.4,848.9 L241.1,848.5 L241.9,848.0 L242.7,847.5 L243.4,846.9 L244.2,846.3 L244.9,845.7 L245.7,845.1 L246.4,844.5 L247.2,843.9 L247.9,843.4 L248.7,842.9 L249.5,842.5 L250.2,842.2 L251.0,841.9 L251.7,841.8 L252.5,841.8 L253.2,841.9 L254.0,842.1 L254.7,842.5 L255.5,843.0 L256.3,843.6 L257.0,844.4 L257.8,845.4 L258.5,846.4 L259.3,847.6 L260.0,848.8 L260.8,850.2 L261.5,851.5 L262.3,852.9 L263.1,854.3 L263.8,855.7 L264.6,857.1 L265.3,858.4 L266.1,859.6 L266.8,860.8 L267.6,861.9 L268.4,862.9 L269.1,863.8 L269.9,864.5 L270.6,865.1 L271.4,865.6 L272.1,865.9 L272.9,866.2 L273.6,866.3 L274.4,866.3 L275.2,866.3 L275.9,866.2 L276.7,866.1 L277.4,866.0 L278.2,865.8 L278.9,865.7 L279.7,865.6 L280.4,865.5 L281.2,865.4 L282.0,865.3 L282.7,865.3 L283.5,865.2 L284.2,865.1 L285.0,865.0 L285.7,865.0 L286.5,864.9 L287.2,864.8 L288.0,864.7 L288.8,864.6 L289.5,864.6 L290.3,864.5 L291.0,864.4 L291.8,864.3 L292.5,864.2 L293.3,864.1 L294.1,864.0 L294.8,863.9 L295.6,863.8 L296.3,863.8 L297.1,863.7 L297.8,863.6 L298.6,863.6 L299.3,863.5 L300.1,863.5 L300.9,863.5 L301.6,863.5 L302.4,863.5 L303.1,863.5 L303.9,863.6 L304.6,863.6 L305.4,863.7 L306.1,863.8 L306.9,863.9 L307.7,864.0 L308.4,864.2 L309.2,864.4 L309.9,864.6 L310.7,864.8 L311.4,865.0 L312.2,865.3 L312.9,865.5 L313.7,865.8 L314.5,866.2 L315.2,866.5 L316.0,866.8 L316.7,867.2 L317.5,867.5 L318.2,867.9 L319.0,868.2 L319.7,868.6 L320.5,868.9 L321.3,869.2 L322.0,869.5 L322.8,869.8 L323.5,870.0 L324.3,870.2 L325.0,870.4 L325.8,870.5 L326.6,870.5 L327.3,870.5 L328.1,870.4 L328.8,870.2 L329.6,869.9 L330.3,869.5 L331.1,869.0 L331.8,868.5 L332.6,868.0 L333.4,867.3 L334.1,866.7 L334.9,866.0 L335.6,865.3 L336.4,864.7 L337.1,864.0 L337.9,863.3 L338.6,862.7 L339.4,862.1 L340.2,861.6 L340.9,861.2 L341.7,860.8 L342.4,860.5 L343.2,860.3 L343.9,860.2 L344.7,860.2 L345.4,860.4 L346.2,860.7 L347.0,861.1 L347.7,861.7 L348.5,862.5 L349.2,863.5" fill="none" stroke="#f00" stroke-width="2.7" stroke-linecap="round" stroke-linejoin="round"/>
<path d="M123.2,875.6 L124.0,875.0 L124.7,874.4 L125.5,873.9 L126.3,873.5 L127.0,873.1 L127.8,872.8 L128.5,872.5 L129.3,872.3 L130.0,872.1 L130.8,871.9 L131.5,871.9 L132.3,871.8 L133.1,871.8 L133.8,871.8 L134.6,871.9 L135.3,872.0 L136.1,872.1 L136.8,872.3 L137.6,872.5 L138.4,872.7 L139.1,872.9 L139.9,873.2 L140.6,873.5 L141.4,873.8 L142.1,874.1 L142.9,874.4 L143.6,874.8 L144.4,875.2 L145.2,875.6 L145.9,876.0 L146.7,876.5 L147.4,876.9 L148.2,877.4 L148.9,878.0 L149.7,878.6 L150.4,879.2 L151.2,879.8 L152.0,880.5 L152.7,881.2 L153.5,881.9 L154.2,882.7 L155.0,883.5 L155.7,884.3 L156.5,885.0 L157.2,885.8 L158.0,886.6 L158.8,887.3 L159.5,888.0 L160.3,888.6 L161.0,889.2 L161.8,889.8 L162.5,890.3 L163.3,890.7 L164.0,891.1 L164.8,891.4 L165.6,891.6 L166.3,891.8 L167.1,891.9 L167.8,891.9 L168.6,891.8 L169.3,891.7 L170.1,891.5 L170.9,891.2 L171.6,890.9 L172.4,890.4 L173.1,889.9 L173.9,889.4 L174.6,888.8 L175.4,888.1 L176.1,887.3 L176.9,886.5 L177.7,885.7 L178.4,884.7 L179.2,883.7 L179.9,882.7 L180.7,881.5 L181.4,880.3 L182.2,879.0 L182.9,877.7 L183.7,876.3 L184.5,874.7 L185.2,873.2 L186.0,871.5 L186.7,869.7 L187.5,867.9 L188.2,866.0 L189.0,864.0 L189.7,862.0 L190.5,860.0 L191.3,857.9 L192.0,855.8 L192.8,853.7 L193.5,851.6 L194.3,849.5 L195.0,847.4 L195.8,845.3 L196.5,843.3 L197.3,841.3 L198.1,839.3 L198.8,837.3 L199.6,835.4 L200.3,833.5 L201.1,831.6 L201.8,829.8 L202.6,828.1 L203.4,826.4 L204.1,824.7 L204.9,823.1 L205.6,821.6 L206.4,820.1 L207.1,818.7 L207.9,817.4 L208.6,816.1 L209.4,815.0 L210.2,814.0 L210.9,813.1 L211.7,812.3 L212.4,811.7 L213.2,811.3 L213.9,811.1 L214.7,811.0 L215.4,811.1 L216.2,811.5 L217.0,812.0 L217.7,812.7 L218.5,813.5 L219.2,814.6 L220.0,815.7 L220.7,817.1 L221.5,818.5 L222.2,820.1 L223.0,821.7 L223.8,823.3 L224.5,825.0 L225.3,826.6 L226.0,828.2 L226.8,829.8 L227.5,831.3 L228.3,832.6 L229.0,834.0 L229.8,835.2 L230.6,836.3 L231.3,837.4 L232.1,838.4 L232.8,839.3 L233.6,840.1 L234.3,840.8 L235.1,841.5 L235.9,842.1 L236.6,842.6 L237.4,843.0 L238.1,843.4 L238.9,843.8 L239.6,844.1 L240.4,844.4 L241.1,844.8 L241.9,845.1 L242.7,845.4 L243.4,845.8 L244.2,846.2 L244.9,846.7 L245.7,847.1 L246.4,847.6 L247.2,848.2 L247.9,848.7 L248.7,849.2 L249.5,849.8 L250.2,850.3 L251.0,850.8 L251.7,851.2 L252.5,851.7 L253.2,852.1 L254.0,852.4 L254.7,852.8 L255.5,853.2 L256.3,853.5 L257.0,853.9 L257.8,854.2 L258.5,854.6 L259.3,855.1 L260.0,855.5 L260.8,856.0 L261.5,856.6 L262.3,857.2 L263.1,857.9 L263.8,858.6 L264.6,859.4 L265.3,860.3 L266.1,861.2 L266.8,862.1 L267.6,863.1 L268.4,864.2 L269.1,865.3 L269.9,866.4 L270.6,867.5 L271.4,868.7 L272.1,869.9 L272.9,871.1 L273.6,872.2 L274.4,873.4 L275.2,874.5 L275.9,875.6 L276.7,876.6 L277.4,877.6 L278.2,878.5 L278.9,879.3 L279.7,880.0 L280.4,880.6 L281.2,881.1 L282.0,881.4 L282.7,881.6 L283.5,881.6 L284.2,881.4 L285.0,881.1 L285.7,880.6 L286.5,880.0 L287.2,879.2 L288.0,878.2 L288.8,877.1 L289.5,875.9 L290.3,874.5 L291.0,873.1 L291.8,871.4 L292.5,869.7 L293.3,868.0 L294.1,866.1 L294.8,864.2 L295.6,862.3 L296.3,860.3 L297.1,858.4 L297.8,856.4 L298.6,854.6 L299.3,852.8 L300.1,851.0 L300.9,849.5 L301.6,848.1 L302.4,846.9 L303.1,845.8 L303.9,845.0 L304.6,844.4 L305.4,843.9 L306.1,843.6 L306.9,843.5 L307.7,843.6 L308.4,843.8 L309.2,844.2 L309.9,844.8 L310.7,845.6 L311.4,846.5 L312.2,847.6 L312.9,848.9 L313.7,850.3 L314.5,851.8 L315.2,853.4 L316.0,855.1 L316.7,856.7 L317.5,858.4 L318.2,860.0 L319.0,861.5 L319.7,862.9 L320.5,864.2 L321.3,865.3 L322.0,866.4 L322.8,867.3 L323.5,868.2 L324.3,868.9 L325.0,869.5 L325.8,870.1 L326.6,870.5 L327.3,870.9 L328.1,871.2 L328.8,871.4 L329.6,871.5 L330.3,871.5 L331.1,871.4 L331.8,871.2 L332.6,870.9 L333.4,870.5 L334.1,870.1 L334.9,869.6 L335.6,869.0 L336.4,868.4 L337.1,867.8 L337.9,867.2 L338.6,866.6 L339.4,865.9 L340.2,865.3 L340.9,864.7 L341.7,864.2 L342.4,863.7 L343.2,863.2 L343.9,862.8 L344.7,862.5 L345.4,862.3 L346.2,862.2 L347.0,862.2 L347.7,862.3 L348.5,862.5 L349.2,862.9" fill="none" stroke="#00f" stroke-width="2.7" stroke-linecap="round" stroke-linejoin="round"/>
<path d="M139.1,706.2v3.0M161.7,706.2v3.0M191.0,706.2v3.0M197.1,706.2v3.0M198.6,706.2v3.0M200.8,706.2v3.0M207.6,706.2v3.0M209.1,706.2v3.0M212.1,706.2v3.0M213.6,706.2v3.0M216.6,706.2v3.0M221.2,706.2v3.0M222.7,706.2v3.0M231.0,706.2v3.0M237.7,706.2v3.0M240.7,706.2v3.0M250.5,706.2v3.0M252.0,706.2v3.0M255.8,706.2v3.0M261.1,706.2v3.0M285.9,706.2v3.0M293.5,706.2v3.0M322.9,706.2v3.0M325.1,706.2v3.0M329.6,706.2v3.0M332.7,706.2v3.0M336.4,706.2v3.0M345.5,706.2v3.0M183.5,709.0v3.0M190.3,709.0v3.0M196.3,709.0v3.0M201.6,709.0v3.0M204.6,709.0v3.0M206.9,709.0v3.0M208.4,709.0v3.0M209.9,709.0v3.0M214.4,709.0v3.0M216.6,709.0v3.0M219.7,709.0v3.0M241.5,709.0v3.0M247.5,709.0v3.0M252.0,709.0v3.0M257.3,709.0v3.0M258.8,709.0v3.0M260.3,709.0v3.0M276.2,709.0v3.0M284.4,709.0v3.0M305.5,709.0v3.0M319.1,709.0v3.0M335.7,709.0v3.0M341.7,709.0v3.0M124.7,711.7v3.0M197.1,711.7v3.0M199.3,711.7v3.0M200.8,711.7v3.0M204.6,711.7v3.0M206.9,711.7v3.0M208.4,711.7v3.0M210.6,711.7v3.0M212.1,711.7v3.0M215.1,711.7v3.0M216.6,711.7v3.0M220.4,711.7v3.0M243.0,711.7v3.0M249.0,711.7v3.0M252.0,711.7v3.0M253.6,711.7v3.0M256.6,711.7v3.0M289.0,711.7v3.0M294.2,711.7v3.0M298.0,711.7v3.0M316.8,711.7v3.0M325.1,711.7v3.0M339.4,711.7v3.0M343.2,711.7v3.0M142.8,714.5v3.0M148.1,714.5v3.0M182.7,714.5v3.0M188.8,714.5v3.0M192.5,714.5v3.0M197.8,714.5v3.0M201.6,714.5v3.0M203.8,714.5v3.0M209.1,714.5v3.0M212.1,714.5v3.0M213.6,714.5v3.0M215.1,714.5v3.0M221.2,714.5v3.0M223.4,714.5v3.0M231.7,714.5v3.0M239.2,714.5v3.0M240.7,714.5v3.0M249.8,714.5v3.0M252.8,714.5v3.0M260.3,714.5v3.0M279.2,714.5v3.0M285.9,714.5v3.0M290.5,714.5v3.0M296.5,714.5v3.0M309.3,714.5v3.0M313.1,714.5v3.0M318.3,714.5v3.0M319.8,714.5v3.0M337.2,714.5v3.0M346.2,714.5v3.0M178.2,717.2v3.0M189.5,717.2v3.0M194.8,717.2v3.0M197.1,717.2v3.0M199.3,717.2v3.0M203.1,717.2v3.0M206.1,717.2v3.0M208.4,717.2v3.0M212.1,717.2v3.0M215.1,717.2v3.0M218.2,717.2v3.0M221.9,717.2v3.0M223.4,717.2v3.0M234.7,717.2v3.0M237.7,717.2v3.0M258.1,717.2v3.0M261.8,717.2v3.0M273.1,717.2v3.0M282.2,717.2v3.0M285.2,717.2v3.0M301.0,717.2v3.0M302.5,717.2v3.0M331.1,717.2v3.0M335.7,717.2v3.0M340.9,717.2v3.0M140.6,720.0v3.0M193.3,720.0v3.0M197.1,720.0v3.0M203.1,720.0v3.0M205.3,720.0v3.0M206.9,720.0v3.0M208.4,720.0v3.0M211.4,720.0v3.0M213.6,720.0v3.0M226.4,720.0v3.0M228.7,720.0v3.0M232.5,720.0v3.0M234.7,720.0v3.0M242.3,720.0v3.0M243.8,720.0v3.0M246.8,720.0v3.0M255.1,720.0v3.0M264.9,720.0v3.0M271.6,720.0v3.0M274.6,720.0v3.0M287.5,720.0v3.0M307.0,720.0v3.0M343.2,720.0v3.0M169.9,722.7v3.0M195.6,722.7v3.0M197.8,722.7v3.0M200.1,722.7v3.0M204.6,722.7v3.0M208.4,722.7v3.0M210.6,722.7v3.0M213.6,722.7v3.0M216.6,722.7v3.0M218.9,722.7v3.0M226.4,722.7v3.0M228.7,722.7v3.0M235.5,722.7v3.0M248.3,722.7v3.0M255.1,722.7v3.0M258.1,722.7v3.0M267.1,722.7v3.0M270.9,722.7v3.0M284.4,722.7v3.0M297.2,722.7v3.0M303.3,722.7v3.0M308.5,722.7v3.0M327.4,722.7v3.0M338.7,722.7v3.0M341.7,722.7v3.0M144.3,725.5v3.0M148.1,725.5v3.0M174.5,725.5v3.0M199.3,725.5v3.0M200.8,725.5v3.0M209.9,725.5v3.0M212.1,725.5v3.0M213.6,725.5v3.0M215.9,725.5v3.0M220.4,725.5v3.0M224.2,725.5v3.0M229.5,725.5v3.0M240.7,725.5v3.0M258.8,725.5v3.0M280.7,725.5v3.0M305.5,725.5v3.0M313.8,725.5v3.0M317.6,725.5v3.0M319.1,725.5v3.0M325.1,725.5v3.0M331.9,725.5v3.0M145.1,728.2v3.0M190.3,728.2v3.0M193.3,728.2v3.0M194.8,728.2v3.0M196.3,728.2v3.0M198.6,728.2v3.0M200.1,728.2v3.0M201.6,728.2v3.0M206.1,728.2v3.0M207.6,728.2v3.0M209.1,728.2v3.0M210.6,728.2v3.0M212.1,728.2v3.0M234.7,728.2v3.0M241.5,728.2v3.0M246.8,728.2v3.0M252.8,728.2v3.0M278.4,728.2v3.0M295.0,728.2v3.0M304.0,728.2v3.0M324.4,728.2v3.0M150.4,731.0v3.0M192.5,731.0v3.0M199.3,731.0v3.0M201.6,731.0v3.0M209.9,731.0v3.0M214.4,731.0v3.0M221.9,731.0v3.0M234.7,731.0v3.0M242.3,731.0v3.0M250.5,731.0v3.0M255.8,731.0v3.0M284.4,731.0v3.0M290.5,731.0v3.0M296.5,731.0v3.0M308.5,731.0v3.0M327.4,731.0v3.0M329.6,731.0v3.0M124.7,733.7v3.0M141.3,733.7v3.0M187.3,733.7v3.0M188.8,733.7v3.0M199.3,733.7v3.0M201.6,733.7v3.0M203.8,733.7v3.0M205.3,733.7v3.0M211.4,733.7v3.0M213.6,733.7v3.0M215.1,733.7v3.0M216.6,733.7v3.0M218.2,733.7v3.0M221.2,733.7v3.0M222.7,733.7v3.0M226.4,733.7v3.0M227.9,733.7v3.0M240.0,733.7v3.0M243.8,733.7v3.0M253.6,733.7v3.0M289.7,733.7v3.0M291.2,733.7v3.0M292.7,733.7v3.0M312.3,733.7v3.0M319.8,733.7v3.0M327.4,733.7v3.0M329.6,733.7v3.0M346.2,733.7v3.0M148.1,736.5v3.0M178.2,736.5v3.0M191.8,736.5v3.0M193.3,736.5v3.0M194.8,736.5v3.0M200.1,736.5v3.0M203.1,736.5v3.0M221.9,736.5v3.0M226.4,736.5v3.0M230.2,736.5v3.0M240.0,736.5v3.0M244.5,736.5v3.0M246.0,736.5v3.0M249.0,736.5v3.0M252.8,736.5v3.0M261.1,736.5v3.0M281.4,736.5v3.0M291.2,736.5v3.0M307.0,736.5v3.0M333.4,736.5v3.0M336.4,736.5v3.0M340.9,736.5v3.0M349.2,736.5v3.0" stroke="#f00" stroke-width="1.05" fill="none"/>
<path d="M200.1,742.2v2.9M206.1,742.2v2.9M210.6,742.2v2.9M212.1,742.2v2.9M217.4,742.2v2.9M222.7,742.2v2.9M225.7,742.2v2.9M227.2,742.2v2.9M229.5,742.2v2.9M234.0,742.2v2.9M235.5,742.2v2.9M249.8,742.2v2.9M254.3,742.2v2.9M264.1,742.2v2.9M273.9,742.2v2.9M295.7,742.2v2.9M300.3,742.2v2.9M305.5,742.2v2.9M327.4,742.2v2.9M344.7,742.2v2.9M191.8,744.9v2.9M197.1,744.9v2.9M206.1,744.9v2.9M212.1,744.9v2.9M215.1,744.9v2.9M220.4,744.9v2.9M223.4,744.9v2.9M230.2,744.9v2.9M237.7,744.9v2.9M250.5,744.9v2.9M267.9,744.9v2.9M273.9,744.9v2.9M290.5,744.9v2.9M296.5,744.9v2.9M303.3,744.9v2.9M310.1,744.9v2.9M311.6,744.9v2.9M314.6,744.9v2.9M328.1,744.9v2.9M343.2,744.9v2.9M125.5,747.6v2.9M128.5,747.6v2.9M137.5,747.6v2.9M139.8,747.6v2.9M152.6,747.6v2.9M198.6,747.6v2.9M204.6,747.6v2.9M209.9,747.6v2.9M211.4,747.6v2.9M214.4,747.6v2.9M215.9,747.6v2.9M231.7,747.6v2.9M233.2,747.6v2.9M236.2,747.6v2.9M253.6,747.6v2.9M298.0,747.6v2.9M307.8,747.6v2.9M322.1,747.6v2.9M339.4,747.6v2.9M139.1,750.3v2.9M141.3,750.3v2.9M142.8,750.3v2.9M145.8,750.3v2.9M149.6,750.3v2.9M151.9,750.3v2.9M153.4,750.3v2.9M196.3,750.3v2.9M197.8,750.3v2.9M208.4,750.3v2.9M215.9,750.3v2.9M218.9,750.3v2.9M227.9,750.3v2.9M235.5,750.3v2.9M238.5,750.3v2.9M242.3,750.3v2.9M245.3,750.3v2.9M247.5,750.3v2.9M255.8,750.3v2.9M292.7,750.3v2.9M300.3,750.3v2.9M302.5,750.3v2.9M309.3,750.3v2.9M316.1,750.3v2.9M340.2,750.3v2.9M131.5,753.0v2.9M142.1,753.0v2.9M145.8,753.0v2.9M148.1,753.0v2.9M184.3,753.0v2.9M191.0,753.0v2.9M200.8,753.0v2.9M203.1,753.0v2.9M209.9,753.0v2.9M211.4,753.0v2.9M212.9,753.0v2.9M218.9,753.0v2.9M227.9,753.0v2.9M238.5,753.0v2.9M245.3,753.0v2.9M254.3,753.0v2.9M264.9,753.0v2.9M294.2,753.0v2.9M298.0,753.0v2.9M302.5,753.0v2.9M307.0,753.0v2.9M320.6,753.0v2.9M341.7,753.0v2.9M344.0,753.0v2.9M345.5,753.0v2.9M142.8,755.7v2.9M149.6,755.7v2.9M153.4,755.7v2.9M160.9,755.7v2.9M195.6,755.7v2.9M197.8,755.7v2.9M204.6,755.7v2.9M207.6,755.7v2.9M210.6,755.7v2.9M214.4,755.7v2.9M217.4,755.7v2.9M218.9,755.7v2.9M221.9,755.7v2.9M225.7,755.7v2.9M236.2,755.7v2.9M237.7,755.7v2.9M240.0,755.7v2.9M245.3,755.7v2.9M249.0,755.7v2.9M251.3,755.7v2.9M281.4,755.7v2.9M298.8,755.7v2.9M308.5,755.7v2.9M332.7,755.7v2.9M346.2,755.7v2.9M127.8,758.4v2.9M139.8,758.4v2.9M144.3,758.4v2.9M148.8,758.4v2.9M187.3,758.4v2.9M188.8,758.4v2.9M191.8,758.4v2.9M207.6,758.4v2.9M215.1,758.4v2.9M220.4,758.4v2.9M231.7,758.4v2.9M234.0,758.4v2.9M237.7,758.4v2.9M266.4,758.4v2.9M296.5,758.4v2.9M302.5,758.4v2.9M318.3,758.4v2.9M340.9,758.4v2.9M125.5,761.1v2.9M137.5,761.1v2.9M139.1,761.1v2.9M145.8,761.1v2.9M148.1,761.1v2.9M159.4,761.1v2.9M181.2,761.1v2.9M185.0,761.1v2.9M202.3,761.1v2.9M203.8,761.1v2.9M206.9,761.1v2.9M209.9,761.1v2.9M211.4,761.1v2.9M214.4,761.1v2.9M216.6,761.1v2.9M219.7,761.1v2.9M227.9,761.1v2.9M230.2,761.1v2.9M235.5,761.1v2.9M239.2,761.1v2.9M243.0,761.1v2.9M244.5,761.1v2.9M252.8,761.1v2.9M297.2,761.1v2.9M305.5,761.1v2.9M313.1,761.1v2.9M138.3,763.8v2.9M201.6,763.8v2.9M207.6,763.8v2.9M215.9,763.8v2.9M221.2,763.8v2.9M237.0,763.8v2.9M239.2,763.8v2.9M244.5,763.8v2.9M260.3,763.8v2.9M268.6,763.8v2.9M300.3,763.8v2.9M309.3,763.8v2.9M310.8,763.8v2.9M333.4,763.8v2.9M346.2,763.8v2.9M177.5,766.5v2.9M181.2,766.5v2.9M199.3,766.5v2.9M203.1,766.5v2.9M206.9,766.5v2.9M211.4,766.5v2.9M221.9,766.5v2.9M223.4,766.5v2.9M225.7,766.5v2.9M229.5,766.5v2.9M231.7,766.5v2.9M237.0,766.5v2.9M259.6,766.5v2.9M271.6,766.5v2.9M285.9,766.5v2.9M310.8,766.5v2.9M316.8,766.5v2.9M326.6,766.5v2.9M203.1,769.2v2.9M206.9,769.2v2.9M209.1,769.2v2.9M211.4,769.2v2.9M217.4,769.2v2.9M218.9,769.2v2.9M220.4,769.2v2.9M221.9,769.2v2.9M223.4,769.2v2.9M225.7,769.2v2.9M231.7,769.2v2.9M247.5,769.2v2.9M268.6,769.2v2.9M287.5,769.2v2.9M292.0,769.2v2.9M298.8,769.2v2.9M302.5,769.2v2.9M304.0,769.2v2.9M310.8,769.2v2.9M315.3,769.2v2.9M340.9,769.2v2.9" stroke="#00f" stroke-width="1.05" fill="none"/>
<path d="M111.3,777.7 L99.2,777.7 L99.2,898.4 L111.3,898.4 M99.2,838 L111.3,838" fill="none" stroke="#000" stroke-width="2.7" stroke-linejoin="miter"/>
<text transform="translate(92.80,786.50) scale(1.029,1)" font-size="21.2" text-anchor="end" fill="#000" >200</text>
<text transform="translate(92.80,844.90) scale(1.029,1)" font-size="21.2" text-anchor="end" fill="#000" >100</text>
<text transform="translate(92.80,905.40) scale(1.029,1)" font-size="21.2" text-anchor="end" fill="#000" >0</text>
<text transform="translate(43.8,920.8) rotate(-90) scale(0.998,1)" font-size="22.7">Firing rate (sp/s)</text>
<path d="M123.2,924 L349.2,924 M123.2,924 v-14.2 M130.8,924 v-4.8 M138.3,924 v-4.8 M145.8,924 v-4.8 M153.4,924 v-4.8 M160.9,924 v-14.2 M168.4,924 v-4.8 M176.0,924 v-4.8 M183.5,924 v-4.8 M191.0,924 v-4.8 M198.6,924 v-14.2 M206.1,924 v-4.8 M213.6,924 v-4.8 M221.2,924 v-4.8 M228.7,924 v-4.8 M236.2,924 v-14.2 M243.8,924 v-4.8 M251.3,924 v-4.8 M258.8,924 v-4.8 M266.4,924 v-4.8 M273.9,924 v-14.2 M281.4,924 v-4.8 M289.0,924 v-4.8 M296.5,924 v-4.8 M304.0,924 v-4.8 M311.6,924 v-14.2 M319.1,924 v-4.8 M326.6,924 v-4.8 M334.2,924 v-4.8 M341.7,924 v-4.8 M349.2,924 v-14.2" fill="none" stroke="#000" stroke-width="2.8" stroke-linecap="square"/>
<text transform="translate(159.90,947.00) scale(1.029,1)" font-size="21.2" text-anchor="middle" fill="#000" >0</text>
<text transform="translate(236.23,947.00) scale(1.029,1)" font-size="21.2" text-anchor="middle" fill="#000" >100</text>
<text transform="translate(311.56,947.00) scale(1.029,1)" font-size="21.2" text-anchor="middle" fill="#000" >200</text>
<text transform="translate(102.30,974.30) scale(1.03,1)" font-size="22.0" text-anchor="start" fill="#000" >Time from stim onset (ms)</text>
<g style="isolation:isolate">
<path d="M456.1,740.4 L456.9,740.7 L457.8,740.9 L458.6,741.2 L459.5,741.4 L460.3,741.7 L461.1,741.9 L462.0,742.2 L462.8,742.4 L463.7,742.7 L464.5,742.9 L465.3,743.1 L466.2,743.4 L467.0,743.6 L467.9,743.9 L468.7,744.1 L469.6,744.3 L470.4,744.5 L471.2,744.8 L472.1,745.0 L472.9,745.2 L473.8,745.4 L474.6,745.6 L475.4,745.8 L476.3,746.0 L477.1,746.2 L478.0,746.3 L478.8,746.5 L479.6,746.7 L480.5,746.8 L481.3,747.0 L482.2,747.1 L483.0,747.2 L483.8,747.3 L484.7,747.4 L485.5,747.5 L486.4,747.6 L487.2,747.7 L488.1,747.8 L488.9,747.8 L489.7,747.9 L490.6,747.9 L491.4,747.9 L492.3,747.9 L493.1,747.8 L493.9,747.8 L494.8,747.7 L495.6,747.6 L496.5,747.5 L497.3,747.3 L498.1,747.2 L499.0,747.0 L499.8,746.7 L500.7,746.5 L501.5,746.2 L502.3,745.9 L503.2,745.6 L504.0,745.3 L504.9,745.0 L505.7,744.7 L506.5,744.3 L507.4,744.0 L508.2,743.7 L509.1,743.3 L509.9,743.0 L510.8,742.7 L511.6,742.4 L512.4,742.1 L513.3,741.9 L514.1,741.6 L515.0,741.4 L515.8,741.2 L516.6,740.9 L517.5,740.7 L518.3,740.4 L519.2,740.1 L520.0,739.8 L520.8,739.5 L521.7,739.2 L522.5,738.8 L523.4,738.4 L524.2,737.9 L525.0,737.3 L525.9,736.4 L526.7,735.4 L527.6,734.1 L528.4,732.6 L529.2,730.8 L530.1,728.7 L530.9,726.4 L531.8,723.7 L532.6,720.7 L533.5,717.3 L534.3,713.7 L535.1,709.8 L536.0,705.6 L536.8,701.1 L537.7,696.4 L538.5,691.5 L539.3,686.6 L540.2,681.8 L541.0,677.2 L541.9,672.7 L542.7,668.5 L543.5,664.5 L544.4,660.6 L545.2,656.9 L546.1,653.3 L546.9,649.9 L547.7,646.5 L548.6,643.2 L549.4,640.0 L550.3,636.9 L551.1,633.9 L552.0,631.0 L552.8,628.1 L553.6,625.4 L554.5,622.7 L555.3,620.2 L556.2,617.7 L557.0,615.4 L557.8,613.2 L558.7,611.1 L559.5,609.1 L560.4,607.3 L561.2,605.5 L562.0,603.8 L562.9,602.2 L563.7,600.7 L564.6,599.3 L565.4,597.9 L566.2,596.6 L567.1,595.4 L567.9,594.1 L568.8,592.9 L569.6,591.8 L570.4,590.7 L571.3,589.7 L572.1,588.8 L573.0,587.9 L573.8,587.2 L574.7,586.5 L575.5,585.9 L576.3,585.4 L577.2,585.0 L578.0,584.7 L578.9,584.5 L579.7,584.4 L580.5,584.5 L581.4,584.6 L582.2,584.8 L583.1,585.2 L583.9,585.6 L584.7,586.1 L585.6,586.6 L586.4,587.2 L587.3,587.9 L588.1,588.6 L588.9,589.3 L589.8,590.0 L590.6,590.8 L591.5,591.5 L592.3,592.3 L593.2,593.1 L594.0,593.8 L594.8,594.5 L595.7,595.3 L596.5,596.0 L597.4,596.7 L598.2,597.4 L599.0,598.0 L599.9,598.7 L600.7,599.3 L601.6,599.9 L602.4,600.5 L603.2,601.1 L604.1,601.6 L604.9,602.2 L605.8,602.8 L606.6,603.4 L607.4,603.9 L608.3,604.5 L609.1,605.1 L610.0,605.7 L610.8,606.4 L611.6,607.0 L612.5,607.8 L613.3,608.6 L614.2,609.4 L615.0,610.4 L615.9,611.4 L616.7,612.6 L617.5,613.9 L618.4,615.4 L619.2,617.0 L620.1,618.7 L620.9,620.5 L621.7,622.4 L622.6,624.4 L623.4,626.4 L624.3,628.5 L625.1,630.6 L625.9,632.7 L626.8,634.7 L627.6,636.7 L628.5,638.6 L629.3,640.4 L630.1,642.1 L631.0,643.5 L631.8,644.8 L632.7,646.0 L633.5,647.0 L634.4,648.0 L635.2,648.8 L636.0,649.6 L636.9,650.3 L637.7,650.9 L638.6,651.5 L639.4,652.1 L640.2,652.6 L641.1,653.1 L641.9,653.5 L642.8,654.0 L643.6,654.4 L644.4,654.9 L645.3,655.3 L646.1,655.8 L647.0,656.3 L647.8,656.8 L648.6,657.4 L649.5,657.9 L650.3,658.5 L651.2,659.1 L652.0,659.7 L652.8,660.3 L653.7,660.9 L654.5,661.4 L655.4,662.0 L656.2,662.5 L657.1,663.0 L657.9,663.4 L658.7,663.9 L659.6,664.2 L660.4,664.5 L661.3,664.8 L662.1,665.0 L662.9,665.2 L663.8,665.3 L664.6,665.3 L665.5,665.2 L666.3,665.1 L667.1,665.0 L668.0,664.8 L668.8,664.5 L669.7,664.2 L670.5,664.0 L671.3,663.7 L672.2,663.4 L673.0,663.1 L673.9,662.9 L674.7,662.7 L675.5,662.5 L676.4,662.4 L677.2,662.3 L678.1,662.3 L678.9,662.4 L679.8,662.5 L680.6,662.7 L681.4,663.0 L682.3,663.4 L683.1,663.7 L684.0,664.2 L684.8,664.6 L685.6,665.1 L686.5,665.5 L687.3,666.0 L688.2,666.5 L689.0,667.0 L689.8,667.4 L690.7,667.8 L691.5,668.2 L692.4,668.6 L693.2,668.9 L694.0,669.2 L694.9,669.4 L695.7,669.5 L696.6,669.6 L697.4,669.6 L698.3,669.6 L699.1,669.5 L699.9,669.4 L700.8,669.2 L701.6,669.0 L702.5,668.7 L703.3,668.5 L704.1,668.1 L705.0,667.8 L705.8,667.4 L706.7,667.0 L707.5,666.6 L707.5,705.2 L706.7,705.7 L705.8,706.2 L705.0,706.6 L704.1,707.0 L703.3,707.4 L702.5,707.7 L701.6,708.1 L700.8,708.3 L699.9,708.6 L699.1,708.8 L698.3,708.9 L697.4,709.0 L696.6,709.1 L695.7,709.1 L694.9,709.0 L694.0,708.8 L693.2,708.6 L692.4,708.4 L691.5,708.1 L690.7,707.8 L689.8,707.5 L689.0,707.1 L688.2,706.7 L687.3,706.3 L686.5,706.0 L685.6,705.6 L684.8,705.2 L684.0,704.9 L683.1,704.6 L682.3,704.4 L681.4,704.1 L680.6,704.0 L679.8,703.9 L678.9,703.9 L678.1,703.9 L677.2,704.0 L676.4,704.2 L675.5,704.4 L674.7,704.7 L673.9,705.0 L673.0,705.3 L672.2,705.7 L671.3,706.0 L670.5,706.4 L669.7,706.7 L668.8,707.1 L668.0,707.3 L667.1,707.6 L666.3,707.7 L665.5,707.9 L664.6,707.9 L663.8,707.8 L662.9,707.7 L662.1,707.5 L661.3,707.2 L660.4,706.8 L659.6,706.4 L658.7,705.9 L657.9,705.4 L657.1,704.8 L656.2,704.1 L655.4,703.4 L654.5,702.7 L653.7,702.0 L652.8,701.2 L652.0,700.4 L651.2,699.6 L650.3,698.8 L649.5,698.0 L648.6,697.3 L647.8,696.5 L647.0,695.8 L646.1,695.1 L645.3,694.5 L644.4,693.8 L643.6,693.2 L642.8,692.6 L641.9,691.9 L641.1,691.3 L640.2,690.7 L639.4,690.0 L638.6,689.3 L637.7,688.6 L636.9,687.9 L636.0,687.1 L635.2,686.2 L634.4,685.3 L633.5,684.3 L632.7,683.3 L631.8,682.1 L631.0,680.9 L630.1,679.7 L629.3,678.4 L628.5,677.0 L627.6,675.5 L626.8,674.1 L625.9,672.6 L625.1,671.1 L624.3,669.7 L623.4,668.2 L622.6,666.9 L621.7,665.6 L620.9,664.3 L620.1,663.1 L619.2,662.0 L618.4,660.9 L617.5,659.9 L616.7,658.9 L615.9,657.9 L615.0,657.0 L614.2,656.2 L613.3,655.5 L612.5,654.8 L611.6,654.2 L610.8,653.6 L610.0,653.1 L609.1,652.6 L608.3,652.1 L607.4,651.6 L606.6,651.1 L605.8,650.7 L604.9,650.2 L604.1,649.7 L603.2,649.2 L602.4,648.7 L601.6,648.2 L600.7,647.7 L599.9,647.1 L599.0,646.6 L598.2,646.0 L597.4,645.4 L596.5,644.7 L595.7,644.1 L594.8,643.4 L594.0,642.7 L593.2,642.0 L592.3,641.3 L591.5,640.6 L590.6,639.9 L589.8,639.2 L588.9,638.5 L588.1,637.8 L587.3,637.1 L586.4,636.5 L585.6,635.9 L584.7,635.3 L583.9,634.8 L583.1,634.4 L582.2,634.1 L581.4,633.9 L580.5,633.7 L579.7,633.7 L578.9,633.8 L578.0,633.9 L577.2,634.2 L576.3,634.5 L575.5,634.9 L574.7,635.5 L573.8,636.1 L573.0,636.8 L572.1,637.6 L571.3,638.4 L570.4,639.4 L569.6,640.3 L568.8,641.4 L567.9,642.5 L567.1,643.6 L566.2,644.7 L565.4,645.9 L564.6,647.1 L563.7,648.4 L562.9,649.7 L562.0,651.0 L561.2,652.4 L560.4,653.8 L559.5,655.3 L558.7,656.8 L557.8,658.5 L557.0,660.2 L556.2,662.1 L555.3,664.0 L554.5,666.0 L553.6,668.2 L552.8,670.4 L552.0,672.8 L551.1,675.3 L550.3,677.9 L549.4,680.5 L548.6,683.3 L547.7,686.2 L546.9,689.2 L546.1,692.4 L545.2,695.6 L544.4,699.0 L543.5,702.6 L542.7,706.3 L541.9,710.2 L541.0,714.4 L540.2,718.7 L539.3,723.2 L538.5,727.7 L537.7,732.1 L536.8,736.4 L536.0,740.4 L535.1,744.0 L534.3,747.2 L533.5,749.9 L532.6,752.1 L531.8,754.0 L530.9,755.5 L530.1,756.6 L529.2,757.4 L528.4,757.9 L527.6,758.2 L526.7,758.3 L525.9,758.4 L525.0,758.4 L524.2,758.4 L523.4,758.5 L522.5,758.6 L521.7,758.8 L520.8,758.8 L520.0,758.9 L519.2,759.0 L518.3,759.0 L517.5,759.1 L516.6,759.1 L515.8,759.2 L515.0,759.2 L514.1,759.3 L513.3,759.4 L512.4,759.5 L511.6,759.6 L510.8,759.8 L509.9,759.9 L509.1,760.1 L508.2,760.3 L507.4,760.6 L506.5,760.8 L505.7,761.0 L504.9,761.3 L504.0,761.5 L503.2,761.8 L502.3,762.0 L501.5,762.3 L500.7,762.5 L499.8,762.7 L499.0,763.0 L498.1,763.2 L497.3,763.3 L496.5,763.5 L495.6,763.6 L494.8,763.7 L493.9,763.8 L493.1,763.8 L492.3,763.9 L491.4,763.9 L490.6,763.9 L489.7,763.9 L488.9,763.8 L488.1,763.8 L487.2,763.7 L486.4,763.7 L485.5,763.6 L484.7,763.5 L483.8,763.4 L483.0,763.3 L482.2,763.2 L481.3,763.1 L480.5,762.9 L479.6,762.8 L478.8,762.7 L478.0,762.5 L477.1,762.4 L476.3,762.2 L475.4,762.1 L474.6,761.9 L473.8,761.7 L472.9,761.6 L472.1,761.4 L471.2,761.2 L470.4,761.1 L469.6,760.9 L468.7,760.7 L467.9,760.5 L467.0,760.4 L466.2,760.2 L465.3,760.0 L464.5,759.8 L463.7,759.7 L462.8,759.5 L462.0,759.3 L461.1,759.2 L460.3,759.0 L459.5,758.8 L458.6,758.7 L457.8,758.5 L456.9,758.4 L456.1,758.3 Z" fill="rgb(255,208,250)" style="mix-blend-mode:multiply"/>
<path d="M456.1,753.3 L456.9,753.3 L457.8,753.2 L458.6,753.1 L459.5,753.0 L460.3,752.8 L461.1,752.7 L462.0,752.6 L462.8,752.4 L463.7,752.3 L464.5,752.1 L465.3,752.0 L466.2,751.8 L467.0,751.6 L467.9,751.5 L468.7,751.3 L469.6,751.2 L470.4,751.1 L471.2,750.9 L472.1,750.8 L472.9,750.7 L473.8,750.6 L474.6,750.5 L475.4,750.4 L476.3,750.4 L477.1,750.3 L478.0,750.3 L478.8,750.3 L479.6,750.3 L480.5,750.3 L481.3,750.3 L482.2,750.4 L483.0,750.4 L483.8,750.4 L484.7,750.4 L485.5,750.4 L486.4,750.4 L487.2,750.3 L488.1,750.2 L488.9,750.1 L489.7,750.0 L490.6,749.8 L491.4,749.6 L492.3,749.4 L493.1,749.2 L493.9,749.0 L494.8,748.7 L495.6,748.5 L496.5,748.3 L497.3,748.0 L498.1,747.8 L499.0,747.6 L499.8,747.4 L500.7,747.2 L501.5,747.1 L502.3,746.9 L503.2,746.8 L504.0,746.7 L504.9,746.7 L505.7,746.6 L506.5,746.6 L507.4,746.7 L508.2,746.8 L509.1,746.8 L509.9,747.0 L510.8,747.1 L511.6,747.2 L512.4,747.2 L513.3,747.3 L514.1,747.3 L515.0,747.3 L515.8,747.2 L516.6,747.1 L517.5,746.9 L518.3,746.7 L519.2,746.4 L520.0,746.0 L520.8,745.5 L521.7,745.1 L522.5,744.5 L523.4,743.9 L524.2,743.3 L525.0,742.5 L525.9,741.7 L526.7,740.9 L527.6,739.9 L528.4,738.8 L529.2,737.6 L530.1,736.3 L530.9,734.7 L531.8,733.0 L532.6,731.1 L533.5,728.9 L534.3,726.6 L535.1,724.0 L536.0,721.3 L536.8,718.4 L537.7,715.3 L538.5,712.1 L539.3,708.8 L540.2,705.4 L541.0,701.9 L541.9,698.4 L542.7,694.8 L543.5,691.2 L544.4,687.7 L545.2,684.2 L546.1,680.8 L546.9,677.6 L547.7,674.4 L548.6,671.4 L549.4,668.4 L550.3,665.6 L551.1,662.8 L552.0,660.2 L552.8,657.7 L553.6,655.3 L554.5,653.0 L555.3,650.8 L556.2,648.7 L557.0,646.7 L557.8,644.8 L558.7,643.0 L559.5,641.2 L560.4,639.5 L561.2,637.9 L562.0,636.4 L562.9,635.0 L563.7,633.7 L564.6,632.6 L565.4,631.5 L566.2,630.6 L567.1,629.8 L567.9,629.1 L568.8,628.6 L569.6,628.2 L570.4,628.0 L571.3,628.1 L572.1,628.3 L573.0,628.8 L573.8,629.5 L574.7,630.4 L575.5,631.4 L576.3,632.5 L577.2,633.8 L578.0,635.1 L578.9,636.4 L579.7,637.7 L580.5,638.9 L581.4,640.1 L582.2,641.2 L583.1,642.3 L583.9,643.3 L584.7,644.4 L585.6,645.4 L586.4,646.4 L587.3,647.3 L588.1,648.2 L588.9,649.0 L589.8,649.7 L590.6,650.4 L591.5,651.0 L592.3,651.5 L593.2,651.9 L594.0,652.3 L594.8,652.5 L595.7,652.7 L596.5,652.8 L597.4,652.8 L598.2,652.8 L599.0,652.8 L599.9,652.8 L600.7,652.7 L601.6,652.6 L602.4,652.6 L603.2,652.5 L604.1,652.5 L604.9,652.6 L605.8,652.7 L606.6,652.9 L607.4,653.1 L608.3,653.4 L609.1,653.7 L610.0,654.0 L610.8,654.4 L611.6,654.8 L612.5,655.3 L613.3,655.7 L614.2,656.3 L615.0,656.8 L615.9,657.4 L616.7,658.0 L617.5,658.6 L618.4,659.2 L619.2,659.9 L620.1,660.5 L620.9,661.1 L621.7,661.8 L622.6,662.4 L623.4,663.1 L624.3,663.7 L625.1,664.3 L625.9,664.9 L626.8,665.5 L627.6,666.1 L628.5,666.6 L629.3,667.2 L630.1,667.7 L631.0,668.3 L631.8,668.8 L632.7,669.3 L633.5,669.9 L634.4,670.4 L635.2,670.9 L636.0,671.4 L636.9,672.0 L637.7,672.5 L638.6,673.1 L639.4,673.6 L640.2,674.2 L641.1,674.7 L641.9,675.3 L642.8,675.8 L643.6,676.3 L644.4,676.8 L645.3,677.3 L646.1,677.7 L647.0,678.1 L647.8,678.5 L648.6,678.9 L649.5,679.2 L650.3,679.5 L651.2,679.7 L652.0,679.9 L652.8,679.9 L653.7,680.0 L654.5,679.9 L655.4,679.8 L656.2,679.5 L657.1,679.3 L657.9,679.0 L658.7,678.6 L659.6,678.2 L660.4,677.8 L661.3,677.4 L662.1,677.0 L662.9,676.7 L663.8,676.3 L664.6,676.0 L665.5,675.7 L666.3,675.5 L667.1,675.4 L668.0,675.3 L668.8,675.3 L669.7,675.3 L670.5,675.5 L671.3,675.8 L672.2,676.1 L673.0,676.5 L673.9,677.0 L674.7,677.5 L675.5,678.1 L676.4,678.7 L677.2,679.4 L678.1,680.1 L678.9,680.8 L679.8,681.5 L680.6,682.2 L681.4,682.9 L682.3,683.5 L683.1,684.1 L684.0,684.7 L684.8,685.3 L685.6,685.8 L686.5,686.3 L687.3,686.7 L688.2,687.1 L689.0,687.5 L689.8,687.8 L690.7,688.2 L691.5,688.4 L692.4,688.7 L693.2,688.9 L694.0,689.1 L694.9,689.3 L695.7,689.4 L696.6,689.5 L697.4,689.6 L698.3,689.7 L699.1,689.7 L699.9,689.7 L700.8,689.7 L701.6,689.7 L702.5,689.7 L703.3,689.6 L704.1,689.5 L705.0,689.5 L705.8,689.4 L706.7,689.2 L707.5,689.1 L707.5,725.1 L706.7,725.2 L705.8,725.3 L705.0,725.4 L704.1,725.5 L703.3,725.6 L702.5,725.6 L701.6,725.7 L700.8,725.7 L699.9,725.7 L699.1,725.7 L698.3,725.6 L697.4,725.6 L696.6,725.5 L695.7,725.4 L694.9,725.2 L694.0,725.1 L693.2,724.9 L692.4,724.7 L691.5,724.4 L690.7,724.1 L689.8,723.8 L689.0,723.4 L688.2,723.1 L687.3,722.6 L686.5,722.1 L685.6,721.6 L684.8,721.1 L684.0,720.5 L683.1,719.8 L682.3,719.1 L681.4,718.4 L680.6,717.7 L679.8,716.9 L678.9,716.1 L678.1,715.4 L677.2,714.6 L676.4,713.9 L675.5,713.2 L674.7,712.6 L673.9,712.0 L673.0,711.4 L672.2,711.0 L671.3,710.6 L670.5,710.3 L669.7,710.1 L668.8,710.0 L668.0,709.9 L667.1,710.0 L666.3,710.2 L665.5,710.4 L664.6,710.6 L663.8,711.0 L662.9,711.3 L662.1,711.7 L661.3,712.2 L660.4,712.6 L659.6,713.0 L658.7,713.5 L657.9,713.9 L657.1,714.2 L656.2,714.6 L655.4,714.8 L654.5,715.1 L653.7,715.2 L652.8,715.3 L652.0,715.2 L651.2,715.2 L650.3,715.0 L649.5,714.8 L648.6,714.6 L647.8,714.3 L647.0,714.0 L646.1,713.7 L645.3,713.3 L644.4,713.0 L643.6,712.6 L642.8,712.1 L641.9,711.7 L641.1,711.2 L640.2,710.8 L639.4,710.3 L638.6,709.8 L637.7,709.4 L636.9,708.9 L636.0,708.4 L635.2,708.0 L634.4,707.5 L633.5,707.1 L632.7,706.6 L631.8,706.1 L631.0,705.6 L630.1,705.1 L629.3,704.7 L628.5,704.2 L627.6,703.6 L626.8,703.1 L625.9,702.6 L625.1,702.0 L624.3,701.5 L623.4,700.9 L622.6,700.3 L621.7,699.7 L620.9,699.1 L620.1,698.5 L619.2,697.9 L618.4,697.3 L617.5,696.7 L616.7,696.1 L615.9,695.6 L615.0,695.0 L614.2,694.5 L613.3,694.1 L612.5,693.6 L611.6,693.2 L610.8,692.8 L610.0,692.5 L609.1,692.2 L608.3,691.9 L607.4,691.7 L606.6,691.5 L605.8,691.4 L604.9,691.3 L604.1,691.3 L603.2,691.3 L602.4,691.4 L601.6,691.5 L600.7,691.6 L599.9,691.7 L599.0,691.8 L598.2,691.8 L597.4,691.9 L596.5,691.8 L595.7,691.8 L594.8,691.6 L594.0,691.4 L593.2,691.1 L592.3,690.7 L591.5,690.2 L590.6,689.6 L589.8,689.0 L588.9,688.3 L588.1,687.6 L587.3,686.8 L586.4,685.9 L585.6,685.0 L584.7,684.0 L583.9,683.1 L583.1,682.1 L582.2,681.1 L581.4,680.1 L580.5,679.3 L579.7,678.6 L578.9,678.0 L578.0,677.5 L577.2,677.1 L576.3,676.9 L575.5,676.7 L574.7,676.6 L573.8,676.6 L573.0,676.7 L572.1,676.9 L571.3,677.1 L570.4,677.3 L569.6,677.5 L568.8,677.7 L567.9,677.9 L567.1,678.2 L566.2,678.5 L565.4,678.9 L564.6,679.3 L563.7,679.8 L562.9,680.3 L562.0,681.0 L561.2,681.7 L560.4,682.5 L559.5,683.4 L558.7,684.5 L557.8,685.6 L557.0,686.9 L556.2,688.4 L555.3,689.9 L554.5,691.6 L553.6,693.3 L552.8,695.2 L552.0,697.2 L551.1,699.3 L550.3,701.5 L549.4,703.8 L548.6,706.2 L547.7,708.7 L546.9,711.4 L546.1,714.1 L545.2,717.0 L544.4,719.9 L543.5,722.9 L542.7,726.0 L541.9,729.0 L541.0,732.0 L540.2,734.9 L539.3,737.7 L538.5,740.4 L537.7,743.0 L536.8,745.3 L536.0,747.5 L535.1,749.5 L534.3,751.3 L533.5,752.9 L532.6,754.3 L531.8,755.5 L530.9,756.5 L530.1,757.4 L529.2,758.1 L528.4,758.7 L527.6,759.2 L526.7,759.6 L525.9,760.0 L525.0,760.5 L524.2,760.9 L523.4,761.3 L522.5,761.7 L521.7,762.1 L520.8,762.4 L520.0,762.7 L519.2,762.9 L518.3,763.1 L517.5,763.2 L516.6,763.3 L515.8,763.3 L515.0,763.2 L514.1,763.1 L513.3,763.0 L512.4,762.8 L511.6,762.6 L510.8,762.5 L509.9,762.3 L509.1,762.1 L508.2,761.9 L507.4,761.7 L506.5,761.6 L505.7,761.6 L504.9,761.5 L504.0,761.5 L503.2,761.6 L502.3,761.7 L501.5,761.8 L500.7,761.9 L499.8,762.1 L499.0,762.3 L498.1,762.5 L497.3,762.7 L496.5,762.9 L495.6,763.2 L494.8,763.4 L493.9,763.6 L493.1,763.9 L492.3,764.1 L491.4,764.3 L490.6,764.5 L489.7,764.7 L488.9,764.8 L488.1,764.9 L487.2,765.0 L486.4,765.1 L485.5,765.2 L484.7,765.2 L483.8,765.2 L483.0,765.2 L482.2,765.2 L481.3,765.3 L480.5,765.3 L479.6,765.3 L478.8,765.3 L478.0,765.4 L477.1,765.4 L476.3,765.5 L475.4,765.6 L474.6,765.7 L473.8,765.9 L472.9,766.0 L472.1,766.2 L471.2,766.4 L470.4,766.6 L469.6,766.8 L468.7,767.0 L467.9,767.3 L467.0,767.5 L466.2,767.7 L465.3,768.0 L464.5,768.2 L463.7,768.5 L462.8,768.8 L462.0,769.0 L461.1,769.3 L460.3,769.5 L459.5,769.7 L458.6,770.0 L457.8,770.2 L456.9,770.4 L456.1,770.6 Z" fill="rgb(212,255,252)" style="mix-blend-mode:multiply"/>
</g>
<path d="M456.1,749.3 L456.9,749.5 L457.8,749.7 L458.6,749.9 L459.5,750.1 L460.3,750.3 L461.1,750.5 L462.0,750.7 L462.8,751.0 L463.7,751.2 L464.5,751.4 L465.3,751.6 L466.2,751.8 L467.0,752.0 L467.9,752.2 L468.7,752.4 L469.6,752.6 L470.4,752.8 L471.2,753.0 L472.1,753.2 L472.9,753.4 L473.8,753.6 L474.6,753.7 L475.4,753.9 L476.3,754.1 L477.1,754.3 L478.0,754.4 L478.8,754.6 L479.6,754.7 L480.5,754.9 L481.3,755.0 L482.2,755.1 L483.0,755.3 L483.8,755.4 L484.7,755.5 L485.5,755.6 L486.4,755.6 L487.2,755.7 L488.1,755.8 L488.9,755.8 L489.7,755.9 L490.6,755.9 L491.4,755.9 L492.3,755.9 L493.1,755.8 L493.9,755.8 L494.8,755.7 L495.6,755.6 L496.5,755.5 L497.3,755.3 L498.1,755.2 L499.0,755.0 L499.8,754.7 L500.7,754.5 L501.5,754.3 L502.3,754.0 L503.2,753.7 L504.0,753.4 L504.9,753.1 L505.7,752.8 L506.5,752.6 L507.4,752.3 L508.2,752.0 L509.1,751.7 L509.9,751.5 L510.8,751.2 L511.6,751.0 L512.4,750.8 L513.3,750.6 L514.1,750.5 L515.0,750.3 L515.8,750.2 L516.6,750.0 L517.5,749.9 L518.3,749.7 L519.2,749.6 L520.0,749.4 L520.8,749.2 L521.7,749.0 L522.5,748.7 L523.4,748.5 L524.2,748.2 L525.0,747.8 L525.9,747.4 L526.7,746.9 L527.6,746.1 L528.4,745.2 L529.2,744.1 L530.1,742.7 L530.9,740.9 L531.8,738.8 L532.6,736.4 L533.5,733.6 L534.3,730.4 L535.1,726.9 L536.0,723.0 L536.8,718.8 L537.7,714.2 L538.5,709.6 L539.3,704.9 L540.2,700.2 L541.0,695.8 L541.9,691.5 L542.7,687.4 L543.5,683.5 L544.4,679.8 L545.2,676.3 L546.1,672.8 L546.9,669.6 L547.7,666.4 L548.6,663.3 L549.4,660.3 L550.3,657.4 L551.1,654.6 L552.0,651.9 L552.8,649.3 L553.6,646.8 L554.5,644.4 L555.3,642.1 L556.2,639.9 L557.0,637.8 L557.8,635.9 L558.7,634.0 L559.5,632.2 L560.4,630.5 L561.2,628.9 L562.0,627.4 L562.9,625.9 L563.7,624.5 L564.6,623.2 L565.4,621.9 L566.2,620.7 L567.1,619.5 L567.9,618.3 L568.8,617.2 L569.6,616.1 L570.4,615.1 L571.3,614.1 L572.1,613.2 L573.0,612.4 L573.8,611.6 L574.7,611.0 L575.5,610.4 L576.3,609.9 L577.2,609.6 L578.0,609.3 L578.9,609.1 L579.7,609.1 L580.5,609.1 L581.4,609.2 L582.2,609.5 L583.1,609.8 L583.9,610.2 L584.7,610.7 L585.6,611.2 L586.4,611.8 L587.3,612.5 L588.1,613.2 L588.9,613.9 L589.8,614.6 L590.6,615.3 L591.5,616.1 L592.3,616.8 L593.2,617.5 L594.0,618.3 L594.8,619.0 L595.7,619.7 L596.5,620.4 L597.4,621.0 L598.2,621.7 L599.0,622.3 L599.9,622.9 L600.7,623.5 L601.6,624.1 L602.4,624.6 L603.2,625.2 L604.1,625.7 L604.9,626.2 L605.8,626.7 L606.6,627.3 L607.4,627.8 L608.3,628.3 L609.1,628.8 L610.0,629.4 L610.8,630.0 L611.6,630.6 L612.5,631.3 L613.3,632.0 L614.2,632.8 L615.0,633.7 L615.9,634.7 L616.7,635.7 L617.5,636.9 L618.4,638.1 L619.2,639.5 L620.1,640.9 L620.9,642.4 L621.7,644.0 L622.6,645.6 L623.4,647.3 L624.3,649.1 L625.1,650.8 L625.9,652.6 L626.8,654.4 L627.6,656.1 L628.5,657.8 L629.3,659.4 L630.1,660.9 L631.0,662.2 L631.8,663.5 L632.7,664.6 L633.5,665.7 L634.4,666.6 L635.2,667.5 L636.0,668.3 L636.9,669.1 L637.7,669.8 L638.6,670.4 L639.4,671.0 L640.2,671.6 L641.1,672.2 L641.9,672.7 L642.8,673.3 L643.6,673.8 L644.4,674.4 L645.3,674.9 L646.1,675.5 L647.0,676.1 L647.8,676.7 L648.6,677.3 L649.5,678.0 L650.3,678.7 L651.2,679.4 L652.0,680.0 L652.8,680.7 L653.7,681.4 L654.5,682.1 L655.4,682.7 L656.2,683.3 L657.1,683.9 L657.9,684.4 L658.7,684.9 L659.6,685.3 L660.4,685.7 L661.3,686.0 L662.1,686.3 L662.9,686.4 L663.8,686.6 L664.6,686.6 L665.5,686.5 L666.3,686.4 L667.1,686.3 L668.0,686.0 L668.8,685.8 L669.7,685.5 L670.5,685.2 L671.3,684.9 L672.2,684.5 L673.0,684.2 L673.9,683.9 L674.7,683.7 L675.5,683.5 L676.4,683.3 L677.2,683.2 L678.1,683.1 L678.9,683.1 L679.8,683.2 L680.6,683.4 L681.4,683.6 L682.3,683.9 L683.1,684.2 L684.0,684.5 L684.8,684.9 L685.6,685.3 L686.5,685.8 L687.3,686.2 L688.2,686.6 L689.0,687.0 L689.8,687.4 L690.7,687.8 L691.5,688.2 L692.4,688.5 L693.2,688.8 L694.0,689.0 L694.9,689.2 L695.7,689.3 L696.6,689.3 L697.4,689.3 L698.3,689.3 L699.1,689.2 L699.9,689.0 L700.8,688.8 L701.6,688.5 L702.5,688.2 L703.3,687.9 L704.1,687.6 L705.0,687.2 L705.8,686.8 L706.7,686.4 L707.5,685.9" fill="none" stroke="#f00" stroke-width="2.8" stroke-linejoin="round"/>
<path d="M456.1,762.0 L456.9,761.8 L457.8,761.7 L458.6,761.5 L459.5,761.4 L460.3,761.2 L461.1,761.0 L462.0,760.8 L462.8,760.6 L463.7,760.4 L464.5,760.2 L465.3,760.0 L466.2,759.8 L467.0,759.6 L467.9,759.4 L468.7,759.2 L469.6,759.0 L470.4,758.8 L471.2,758.7 L472.1,758.5 L472.9,758.4 L473.8,758.2 L474.6,758.1 L475.4,758.0 L476.3,757.9 L477.1,757.9 L478.0,757.8 L478.8,757.8 L479.6,757.8 L480.5,757.8 L481.3,757.8 L482.2,757.8 L483.0,757.8 L483.8,757.8 L484.7,757.8 L485.5,757.8 L486.4,757.7 L487.2,757.7 L488.1,757.6 L488.9,757.5 L489.7,757.3 L490.6,757.1 L491.4,756.9 L492.3,756.7 L493.1,756.5 L493.9,756.3 L494.8,756.1 L495.6,755.8 L496.5,755.6 L497.3,755.4 L498.1,755.2 L499.0,754.9 L499.8,754.8 L500.7,754.6 L501.5,754.4 L502.3,754.3 L503.2,754.2 L504.0,754.1 L504.9,754.1 L505.7,754.1 L506.5,754.1 L507.4,754.2 L508.2,754.3 L509.1,754.5 L509.9,754.6 L510.8,754.8 L511.6,754.9 L512.4,755.0 L513.3,755.1 L514.1,755.2 L515.0,755.3 L515.8,755.3 L516.6,755.2 L517.5,755.1 L518.3,754.9 L519.2,754.7 L520.0,754.3 L520.8,754.0 L521.7,753.6 L522.5,753.1 L523.4,752.6 L524.2,752.1 L525.0,751.5 L525.9,750.9 L526.7,750.2 L527.6,749.5 L528.4,748.7 L529.2,747.9 L530.1,746.8 L530.9,745.6 L531.8,744.3 L532.6,742.7 L533.5,740.9 L534.3,738.9 L535.1,736.7 L536.0,734.4 L536.8,731.8 L537.7,729.1 L538.5,726.3 L539.3,723.3 L540.2,720.2 L541.0,717.0 L541.9,713.7 L542.7,710.4 L543.5,707.1 L544.4,703.8 L545.2,700.6 L546.1,697.5 L546.9,694.5 L547.7,691.6 L548.6,688.8 L549.4,686.1 L550.3,683.5 L551.1,681.1 L552.0,678.7 L552.8,676.5 L553.6,674.3 L554.5,672.3 L555.3,670.4 L556.2,668.6 L557.0,666.8 L557.8,665.2 L558.7,663.7 L559.5,662.3 L560.4,661.0 L561.2,659.8 L562.0,658.7 L562.9,657.7 L563.7,656.8 L564.6,655.9 L565.4,655.2 L566.2,654.5 L567.1,654.0 L567.9,653.5 L568.8,653.1 L569.6,652.8 L570.4,652.6 L571.3,652.6 L572.1,652.6 L573.0,652.8 L573.8,653.0 L574.7,653.5 L575.5,654.0 L576.3,654.7 L577.2,655.4 L578.0,656.3 L578.9,657.2 L579.7,658.1 L580.5,659.1 L581.4,660.1 L582.2,661.1 L583.1,662.2 L583.9,663.2 L584.7,664.2 L585.6,665.2 L586.4,666.1 L587.3,667.0 L588.1,667.9 L588.9,668.6 L589.8,669.4 L590.6,670.0 L591.5,670.6 L592.3,671.1 L593.2,671.5 L594.0,671.8 L594.8,672.1 L595.7,672.2 L596.5,672.3 L597.4,672.4 L598.2,672.3 L599.0,672.3 L599.9,672.2 L600.7,672.1 L601.6,672.1 L602.4,672.0 L603.2,671.9 L604.1,671.9 L604.9,672.0 L605.8,672.1 L606.6,672.2 L607.4,672.4 L608.3,672.6 L609.1,672.9 L610.0,673.2 L610.8,673.6 L611.6,674.0 L612.5,674.4 L613.3,674.9 L614.2,675.4 L615.0,675.9 L615.9,676.5 L616.7,677.1 L617.5,677.6 L618.4,678.2 L619.2,678.9 L620.1,679.5 L620.9,680.1 L621.7,680.7 L622.6,681.4 L623.4,682.0 L624.3,682.6 L625.1,683.2 L625.9,683.7 L626.8,684.3 L627.6,684.9 L628.5,685.4 L629.3,685.9 L630.1,686.4 L631.0,686.9 L631.8,687.5 L632.7,688.0 L633.5,688.5 L634.4,688.9 L635.2,689.4 L636.0,689.9 L636.9,690.4 L637.7,691.0 L638.6,691.5 L639.4,692.0 L640.2,692.5 L641.1,693.0 L641.9,693.5 L642.8,694.0 L643.6,694.4 L644.4,694.9 L645.3,695.3 L646.1,695.7 L647.0,696.1 L647.8,696.4 L648.6,696.8 L649.5,697.0 L650.3,697.3 L651.2,697.4 L652.0,697.5 L652.8,697.6 L653.7,697.6 L654.5,697.5 L655.4,697.3 L656.2,697.1 L657.1,696.8 L657.9,696.4 L658.7,696.0 L659.6,695.6 L660.4,695.2 L661.3,694.8 L662.1,694.4 L662.9,694.0 L663.8,693.6 L664.6,693.3 L665.5,693.1 L666.3,692.8 L667.1,692.7 L668.0,692.6 L668.8,692.6 L669.7,692.7 L670.5,692.9 L671.3,693.2 L672.2,693.5 L673.0,694.0 L673.9,694.5 L674.7,695.0 L675.5,695.7 L676.4,696.3 L677.2,697.0 L678.1,697.7 L678.9,698.5 L679.8,699.2 L680.6,699.9 L681.4,700.6 L682.3,701.3 L683.1,702.0 L684.0,702.6 L684.8,703.2 L685.6,703.7 L686.5,704.2 L687.3,704.7 L688.2,705.1 L689.0,705.5 L689.8,705.8 L690.7,706.1 L691.5,706.4 L692.4,706.7 L693.2,706.9 L694.0,707.1 L694.9,707.3 L695.7,707.4 L696.6,707.5 L697.4,707.6 L698.3,707.7 L699.1,707.7 L699.9,707.7 L700.8,707.7 L701.6,707.7 L702.5,707.7 L703.3,707.6 L704.1,707.5 L705.0,707.4 L705.8,707.3 L706.7,707.2 L707.5,707.1" fill="none" stroke="#00f" stroke-width="2.8" stroke-linejoin="round"/>
<path d=" M456.1,778.5 v-14.6 M464.5,778.5 v-5.2 M472.9,778.5 v-5.2 M481.2,778.5 v-5.2 M489.6,778.5 v-5.2 M498.0,778.5 v-14.6 M506.4,778.5 v-5.2 M514.8,778.5 v-5.2 M523.1,778.5 v-5.2 M531.5,778.5 v-5.2 M539.9,778.5 v-14.6 M548.3,778.5 v-5.2 M556.7,778.5 v-5.2 M565.0,778.5 v-5.2 M573.4,778.5 v-5.2 M581.8,778.5 v-14.6 M590.2,778.5 v-5.2 M598.6,778.5 v-5.2 M606.9,778.5 v-5.2 M615.3,778.5 v-5.2 M623.7,778.5 v-14.6 M632.1,778.5 v-5.2 M640.5,778.5 v-5.2 M648.8,778.5 v-5.2 M657.2,778.5 v-5.2 M665.6,778.5 v-14.6 M674.0,778.5 v-5.2 M682.4,778.5 v-5.2 M690.7,778.5 v-5.2 M699.1,778.5 v-5.2 M707.5,778.5 v-14.6 M455.7,711.9 h13.5 M455.7,645.3 h13.5" fill="none" stroke="#000" stroke-width="2.6"/>
<rect x="455.7" y="578.4" width="251.1" height="200.1" fill="none" stroke="#000" stroke-width="2.8"/>
<text transform="translate(447.20,587.00) scale(1.029,1)" font-size="21.4" text-anchor="end" fill="#000" >150</text>
<text transform="translate(447.20,652.80) scale(1.029,1)" font-size="21.4" text-anchor="end" fill="#000" >100</text>
<text transform="translate(447.20,718.70) scale(1.029,1)" font-size="21.4" text-anchor="end" fill="#000" >50</text>
<text transform="translate(447.20,784.50) scale(1.029,1)" font-size="21.4" text-anchor="end" fill="#000" >0</text>
<text transform="translate(497.50,802.50) scale(1.029,1)" font-size="21.4" text-anchor="middle" fill="#000" >0</text>
<text transform="translate(581.30,802.50) scale(1.029,1)" font-size="21.4" text-anchor="middle" fill="#000" >100</text>
<text transform="translate(665.10,802.50) scale(1.029,1)" font-size="21.4" text-anchor="middle" fill="#000" >200</text>
<text transform="translate(397.7,761.6) rotate(-90) scale(1.015,1)" font-size="22.3">Firing rate (sp/s)</text>
<text transform="translate(452.00,829.80) scale(1.034,1)" font-size="21.9" text-anchor="start" fill="#000" >Time from stim onset (ms)</text>
</svg></body></html>
